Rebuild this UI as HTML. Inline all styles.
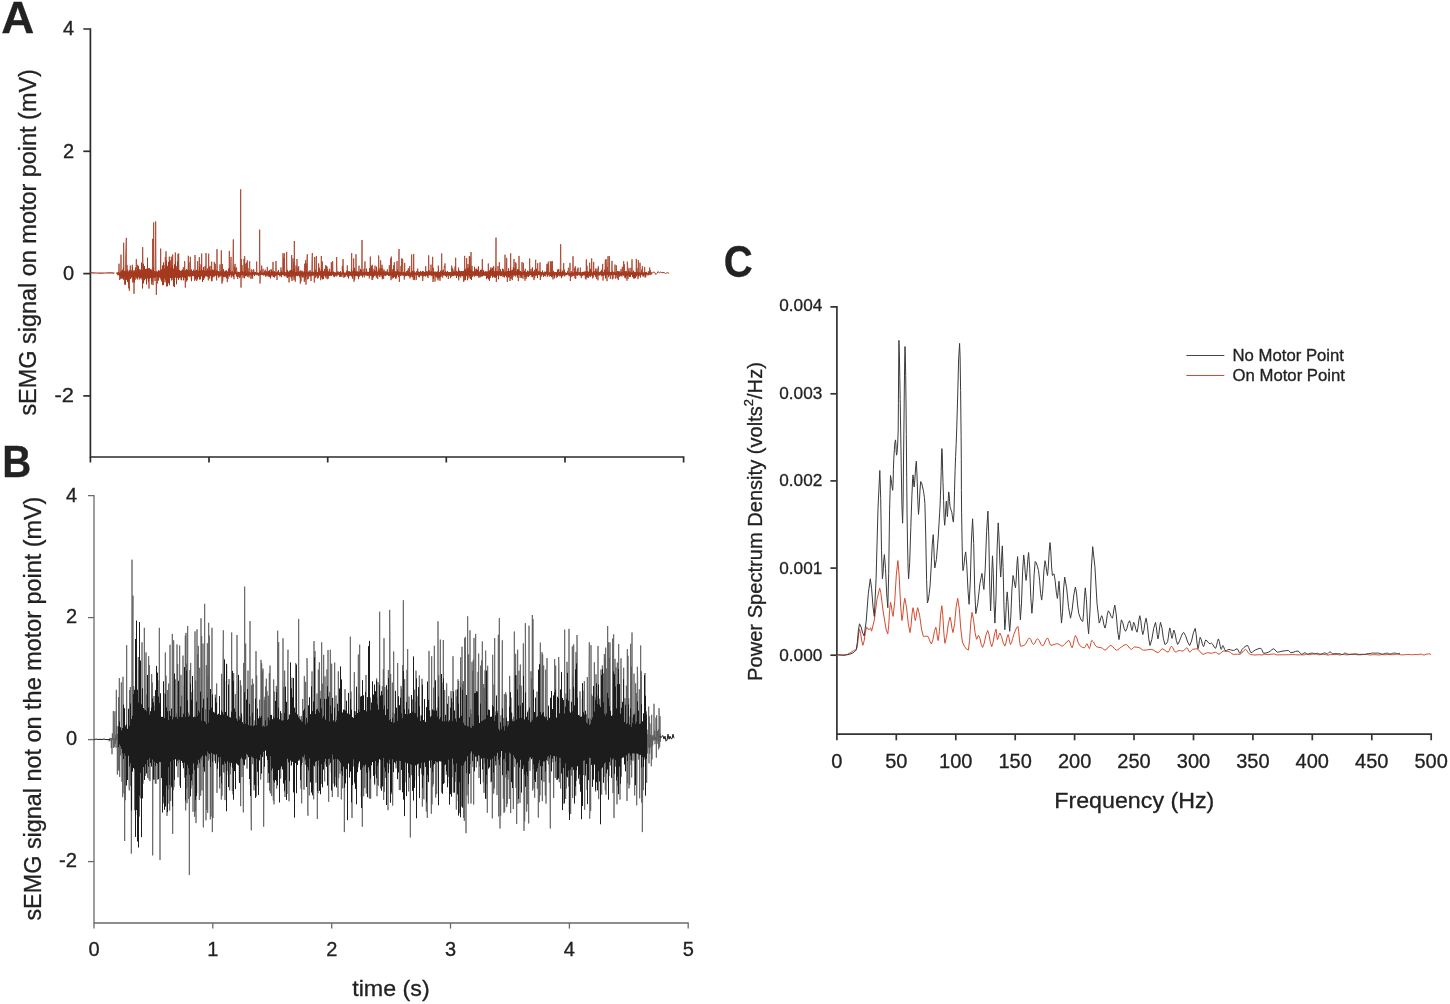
<!DOCTYPE html><html><head><meta charset="utf-8"><style>html,body{margin:0;padding:0;background:#fff;width:1450px;height:1004px;overflow:hidden}svg{display:block;will-change:transform}text{font-family:"Liberation Sans",sans-serif;stroke:#222;stroke-width:0.3px}</style></head><body><svg width="1450" height="1004" viewBox="0 0 1450 1004"><rect width="1450" height="1004" fill="#fff"/><text x="1.3" y="33" font-size="44.5" font-weight="bold" fill="#222" textLength="33" lengthAdjust="spacingAndGlyphs">A</text><text x="2.2" y="476.9" font-size="44.5" font-weight="bold" fill="#222" textLength="29" lengthAdjust="spacingAndGlyphs">B</text><text x="723.8" y="276.6" font-size="44.5" font-weight="bold" fill="#222" textLength="29" lengthAdjust="spacingAndGlyphs">C</text><g stroke="#2b2b2b" stroke-width="1.7" fill="none"><path d="M83.3,29 H90.4 V457 H683.6 V462.5"/><path d="M83.3,151.3 H90.4"/><path d="M83.3,273.6 H90.4"/><path d="M83.3,395.9 H90.4"/><path d="M90.4,457 V462.5"/><path d="M209.0,457 V462.5"/><path d="M327.7,457 V462.5"/><path d="M446.3,457 V462.5"/><path d="M565.0,457 V462.5"/></g><g font-size="20" fill="#222" text-anchor="end"><text x="74" y="35.3">4</text><text x="74" y="157.6">2</text><text x="74" y="279.9">0</text><text x="74" y="402.2" textLength="19.5" lengthAdjust="spacingAndGlyphs">-2</text></g><text transform="translate(36.3,415.6) rotate(-90)" font-size="23.5" fill="#222" textLength="346.5" lengthAdjust="spacingAndGlyphs">sEMG signal on motor point (mV)</text><polyline points="116.00,273.6 116.33,273.6 116.67,273.6 117.00,272.4 117.33,273.6 117.67,272.7 118.00,275.3 118.33,272.1 118.67,273.6 119.00,263.7 119.33,275.0 119.67,280.0 120.00,277.8 120.33,271.3 120.67,277.0 121.00,254.7 121.33,278.8 121.67,270.7 122.00,277.1 122.33,273.3 122.67,274.5 123.00,270.4 123.33,276.1 123.67,242.8 124.00,274.7 124.33,271.3 124.67,284.5 125.00,271.8 125.33,278.1 125.67,254.5 126.00,246.8 126.33,237.9 126.67,278.6 127.00,264.9 127.33,278.2 127.67,269.7 128.00,274.2 128.33,271.7 128.67,288.2 129.00,272.5 129.33,290.7 129.67,270.0 130.00,278.8 130.33,265.6 130.67,278.8 131.00,272.5 131.33,274.7 131.67,272.3 132.00,273.6 132.33,264.8 132.67,282.5 133.00,270.2 133.33,278.4 133.67,272.9 134.00,293.8 134.33,270.4 134.67,275.4 135.00,278.3 135.33,279.7 135.67,272.8 136.00,273.6 136.33,259.2 136.67,278.4 137.00,271.5 137.33,274.4 137.67,264.8 138.00,276.3 138.33,271.5 138.67,274.8 139.00,271.6 139.33,279.5 139.67,269.0 140.00,273.8 140.33,272.8 140.67,275.6 141.00,272.5 141.33,275.3 141.67,264.7 142.00,279.5 142.33,273.2 142.67,247.2 143.00,266.0 143.33,278.4 143.67,275.6 144.00,270.8 144.33,274.5 144.67,273.2 145.00,277.1 145.33,274.4 145.67,270.7 146.00,274.6 146.33,270.1 146.67,281.2 147.00,275.7 147.33,271.5 147.67,277.5 148.00,273.0 148.33,277.8 148.67,273.5 149.00,288.6 149.33,272.4 149.67,275.2 150.00,270.9 150.33,277.3 150.67,271.3 151.00,276.6 151.33,273.0 151.67,284.4 152.00,273.0 152.33,282.2 152.67,238.8 153.00,285.1 153.33,273.6 153.67,222.4 154.00,271.5 154.33,275.3 154.67,271.3 155.00,281.0 155.33,273.0 155.67,221.4 156.00,269.0 156.33,294.8 156.67,281.5 157.00,272.4 157.33,283.5 157.67,274.9 158.00,273.5 158.33,278.5 158.67,272.5 159.00,277.7 159.33,275.9 159.67,271.1 160.00,271.4 160.33,278.2 160.67,248.6 161.00,279.7 161.33,269.7 161.67,281.5 162.00,273.2 162.33,274.8 162.67,270.4 163.00,274.8 163.33,270.8 163.67,274.0 164.00,265.1 164.33,276.2 164.67,270.6 165.00,282.4 165.33,256.9 165.67,280.3 166.00,251.3 166.33,275.0 166.67,271.5 167.00,277.5 167.33,265.8 167.67,283.2 168.00,272.9 168.33,280.4 168.67,271.3 169.00,274.9 169.33,256.6 169.67,274.7 170.00,272.8 170.33,276.0 170.67,260.5 171.00,274.0 171.33,256.7 171.67,275.3 172.00,270.9 172.33,274.6 172.67,254.5 173.00,280.0 173.33,272.3 173.67,273.0 174.00,274.5 174.33,273.3 174.67,273.8 175.00,273.2 175.33,252.5 175.67,275.5 176.00,276.2 176.33,266.2 176.67,278.9 177.00,272.7 177.33,272.2 177.67,275.9 178.00,254.0 178.33,277.2 178.67,253.5 179.00,275.7 179.33,271.4 179.67,273.7 180.00,271.2 180.33,276.6 180.67,271.0 181.00,279.5 181.33,273.4 181.67,276.5 182.00,272.5 182.33,274.7 182.67,271.2 183.00,275.7 183.33,267.3 183.67,279.7 184.00,271.9 184.33,277.2 184.67,261.2 185.00,275.0 185.33,287.6 185.67,272.8 186.00,274.9 186.33,270.9 186.67,281.6 187.00,270.9 187.33,280.1 187.67,271.4 188.00,273.8 188.33,255.8 188.67,274.2 189.00,262.2 189.33,276.7 189.67,272.8 190.00,275.7 190.33,256.8 190.67,274.0 191.00,272.7 191.33,279.6 191.67,271.8 192.00,273.7 192.33,271.3 192.67,275.1 193.00,273.3 193.33,275.2 193.67,272.0 194.00,275.3 194.33,273.2 194.67,280.8 195.00,255.0 195.33,274.4 195.67,272.4 196.00,274.9 196.33,271.9 196.67,281.0 197.00,273.4 197.33,279.4 197.67,261.1 198.00,276.7 198.33,271.6 198.67,276.8 199.00,272.1 199.33,257.1 199.67,271.4 200.00,276.5 200.33,272.8 200.67,275.5 201.00,264.2 201.33,275.7 201.67,253.5 202.00,276.4 202.33,272.6 202.67,276.8 203.00,272.0 203.33,274.5 203.67,267.6 204.00,275.2 204.33,273.5 204.67,276.7 205.00,266.1 205.33,266.2 205.67,274.1 206.00,253.1 206.33,273.7 206.67,271.2 207.00,274.2 207.33,273.5 207.67,276.7 208.00,270.7 208.33,280.4 208.67,253.7 209.00,276.2 209.33,271.6 209.67,278.6 210.00,270.5 210.33,273.8 210.67,274.4 211.00,265.8 211.33,276.0 211.67,261.6 212.00,281.2 212.33,273.0 212.67,276.5 213.00,273.5 213.33,276.3 213.67,270.4 214.00,277.2 214.33,261.9 214.67,274.2 215.00,272.6 215.33,263.8 215.67,274.3 216.00,270.3 216.33,270.6 216.67,280.4 217.00,249.2 217.33,274.0 217.67,272.1 218.00,274.6 218.33,271.0 218.67,277.9 219.00,276.8 219.33,273.0 219.67,276.4 220.00,264.4 220.33,275.7 220.67,271.6 221.00,274.2 221.33,250.3 221.67,273.8 222.00,283.7 222.33,264.0 222.67,281.4 223.00,276.7 223.33,273.2 223.67,276.0 224.00,272.2 224.33,276.8 224.67,272.9 225.00,277.2 225.33,270.7 225.67,276.9 226.00,274.4 226.33,270.6 226.67,277.0 227.00,272.2 227.33,282.1 227.67,272.3 228.00,279.0 228.33,273.4 228.67,273.8 229.00,275.9 229.33,250.9 229.67,276.6 230.00,271.9 230.33,273.8 230.67,268.0 231.00,256.9 231.33,277.5 231.67,273.2 232.00,276.6 232.33,271.0 232.67,275.8 233.00,258.1 233.33,239.4 233.67,271.5 234.00,279.2 234.33,266.5 234.67,274.7 235.00,263.9 235.33,273.7 235.67,268.2 236.00,273.6 236.33,267.4 236.67,268.3 237.00,276.9 237.33,271.7 237.67,278.9 238.00,273.0 238.33,276.9 238.67,272.8 239.00,275.4 239.33,272.6 239.67,278.1 240.00,273.2 240.33,276.8 240.67,189.3 241.00,287.6 241.33,259.0 241.67,275.1 242.00,265.0 242.33,275.1 242.67,271.5 243.00,278.1 243.33,272.1 243.67,275.4 244.00,258.9 244.33,277.2 244.67,256.2 245.00,273.8 245.33,263.7 245.67,275.4 246.00,271.4 246.33,275.6 246.67,262.6 247.00,276.2 247.33,260.3 247.67,276.9 248.00,268.2 248.33,274.9 248.67,271.4 249.00,277.4 249.33,267.9 249.67,261.2 250.00,274.4 250.33,272.6 250.67,276.4 251.00,279.0 251.33,269.4 251.67,274.0 252.00,277.5 252.33,272.0 252.67,278.6 253.00,269.9 253.33,274.5 253.67,269.1 254.00,274.1 254.33,272.2 254.67,275.3 255.00,272.2 255.33,274.1 255.67,272.0 256.00,274.9 256.33,274.5 256.67,261.6 257.00,275.3 257.33,272.7 257.67,273.9 258.00,273.1 258.33,274.2 258.67,272.9 259.00,274.4 259.33,274.3 259.67,229.7 260.00,283.5 260.33,273.6 260.67,275.1 261.00,273.3 261.33,274.9 261.67,265.6 262.00,273.3 262.33,274.4 262.67,274.1 263.00,268.8 263.33,275.3 263.67,273.4 264.00,275.5 264.33,274.5 264.67,272.2 265.00,274.2 265.33,269.6 265.67,276.6 266.00,272.5 266.33,273.8 266.67,273.5 267.00,276.3 267.33,266.9 267.67,275.8 268.00,272.2 268.33,274.6 268.67,270.9 269.00,274.8 269.33,274.4 269.67,272.5 270.00,276.5 270.33,272.7 270.67,274.0 271.00,269.2 271.33,275.2 271.67,272.8 272.00,276.6 272.33,271.9 272.67,275.4 273.00,261.9 273.33,273.8 273.67,272.5 274.00,273.6 274.33,272.2 274.67,275.7 275.00,273.4 275.33,276.2 275.67,272.6 276.00,261.0 276.33,271.8 276.67,272.3 277.00,280.0 277.33,272.2 277.67,274.0 278.00,271.9 278.33,274.3 278.67,273.0 279.00,275.1 279.33,273.3 279.67,276.3 280.00,272.3 280.33,276.0 280.67,271.7 281.00,267.5 281.33,276.9 281.67,275.5 282.00,273.0 282.33,274.8 282.67,273.0 283.00,253.2 283.33,275.0 283.67,257.8 284.00,275.6 284.33,253.4 284.67,274.7 285.00,276.4 285.33,273.4 285.67,274.3 286.00,272.3 286.33,276.2 286.67,251.9 287.00,277.6 287.33,273.5 287.67,276.3 288.00,273.1 288.33,276.5 288.67,271.6 289.00,282.4 289.33,277.4 289.67,273.3 290.00,271.4 290.33,273.7 290.67,270.6 291.00,274.8 291.33,278.4 291.67,255.0 292.00,281.0 292.33,271.1 292.67,276.7 293.00,258.4 293.33,276.4 293.67,262.0 294.00,280.2 294.33,241.0 294.67,278.1 295.00,272.8 295.33,281.7 295.67,274.7 296.00,265.5 296.33,272.4 296.67,275.6 297.00,259.0 297.33,272.3 297.67,274.9 298.00,267.6 298.33,274.5 298.67,266.3 299.00,276.1 299.33,271.3 299.67,277.3 300.00,272.7 300.33,283.7 300.67,270.4 301.00,281.4 301.33,271.4 301.67,276.1 302.00,270.8 302.33,274.7 302.67,271.6 303.00,277.5 303.33,273.3 303.67,276.6 304.00,271.4 304.33,282.0 304.67,263.7 305.00,280.1 305.33,274.8 305.67,260.1 306.00,284.6 306.33,263.4 306.67,276.3 307.00,257.2 307.33,254.2 307.67,279.4 308.00,271.3 308.33,278.9 308.67,273.4 309.00,276.4 309.33,273.1 309.67,275.2 310.00,270.1 310.33,276.9 310.67,271.5 311.00,281.0 311.33,272.5 311.67,275.8 312.00,259.4 312.33,253.0 312.67,275.2 313.00,271.7 313.33,273.0 313.67,275.3 314.00,271.9 314.33,282.5 314.67,257.0 315.00,274.3 315.33,272.9 315.67,277.7 316.00,270.6 316.33,256.0 316.67,276.4 317.00,274.8 317.33,272.1 317.67,278.5 318.00,272.7 318.33,274.3 318.67,263.5 319.00,275.6 319.33,267.7 319.67,275.2 320.00,275.5 320.33,270.7 320.67,280.2 321.00,275.9 321.33,256.0 321.67,277.9 322.00,268.0 322.33,261.5 322.67,271.0 323.00,277.5 323.33,271.9 323.67,274.2 324.00,272.4 324.33,274.0 324.67,273.6 325.00,274.5 325.33,277.0 325.67,265.3 326.00,278.3 326.33,265.9 326.67,275.1 327.00,266.6 327.33,279.2 327.67,269.0 328.00,274.6 328.33,278.5 328.67,272.1 329.00,275.9 329.33,273.2 329.67,268.8 330.00,275.4 330.33,272.7 330.67,272.0 331.00,275.7 331.33,262.2 331.67,274.7 332.00,272.2 332.33,273.7 332.67,261.2 333.00,274.4 333.33,271.6 333.67,274.5 334.00,272.7 334.33,276.7 334.67,272.2 335.00,273.1 335.33,275.7 335.67,273.1 336.00,274.7 336.33,276.5 336.67,257.0 337.00,273.4 337.33,275.6 337.67,273.3 338.00,274.1 338.33,271.6 338.67,274.7 339.00,273.5 339.33,275.5 339.67,276.9 340.00,271.9 340.33,276.9 340.67,272.7 341.00,276.6 341.33,275.1 341.67,272.8 342.00,276.9 342.33,265.9 342.67,274.4 343.00,259.1 343.33,267.8 343.67,277.7 344.00,276.7 344.33,273.3 344.67,276.7 345.00,276.4 345.33,273.3 345.67,276.5 346.00,274.4 346.33,274.2 346.67,270.8 347.00,273.9 347.33,265.4 347.67,276.5 348.00,272.8 348.33,274.8 348.67,277.1 349.00,271.6 349.33,275.6 349.67,271.2 350.00,275.3 350.33,272.0 350.67,275.2 351.00,273.4 351.33,276.0 351.67,253.1 352.00,276.9 352.33,271.8 352.67,278.7 353.00,271.0 353.33,274.8 353.67,258.4 354.00,281.7 354.33,271.0 354.67,279.8 355.00,276.5 355.33,271.5 355.67,275.8 356.00,254.2 356.33,275.8 356.67,272.4 357.00,275.9 357.33,274.6 357.67,272.5 358.00,275.1 358.33,273.3 358.67,274.9 359.00,265.7 359.33,276.8 359.67,272.1 360.00,271.2 360.33,274.7 360.67,275.7 361.00,271.4 361.33,275.1 361.67,271.8 362.00,240.0 362.33,273.2 362.67,274.3 363.00,271.7 363.33,274.2 363.67,274.9 364.00,268.7 364.33,277.3 364.67,267.3 365.00,261.4 365.33,275.4 365.67,272.6 366.00,274.4 366.33,272.5 366.67,275.8 367.00,273.1 367.33,275.3 367.67,271.7 368.00,272.4 368.33,274.2 368.67,275.6 369.00,272.0 369.33,278.4 369.67,272.8 370.00,275.3 370.33,256.6 370.67,274.3 371.00,265.7 371.33,275.3 371.67,272.7 372.00,279.8 372.33,264.8 372.67,279.6 373.00,268.9 373.33,275.8 373.67,273.5 374.00,275.3 374.33,273.0 374.67,276.0 375.00,265.6 375.33,273.3 375.67,274.1 376.00,271.6 376.33,277.7 376.67,269.0 377.00,276.9 377.33,272.1 377.67,279.1 378.00,274.1 378.33,271.7 378.67,255.5 379.00,270.1 379.33,269.9 379.67,273.7 380.00,268.3 380.33,274.5 380.67,260.3 381.00,276.8 381.33,268.2 381.67,274.2 382.00,264.8 382.33,279.3 382.67,268.3 383.00,276.4 383.33,273.2 383.67,278.9 384.00,269.6 384.33,274.1 384.67,271.5 385.00,275.4 385.33,271.4 385.67,275.1 386.00,271.8 386.33,275.4 386.67,271.5 387.00,274.8 387.33,269.4 387.67,275.1 388.00,273.6 388.33,274.5 388.67,272.1 389.00,274.1 389.33,265.2 389.67,276.1 390.00,271.3 390.33,274.7 390.67,258.5 391.00,280.2 391.33,256.6 391.67,274.4 392.00,278.7 392.33,269.3 392.67,275.4 393.00,272.7 393.33,278.1 393.67,265.3 394.00,275.7 394.33,262.3 394.67,276.8 395.00,271.6 395.33,273.8 395.67,272.0 396.00,276.2 396.33,278.4 396.67,275.6 397.00,261.1 397.33,274.9 397.67,272.4 398.00,273.8 398.33,271.4 398.67,274.0 399.00,249.0 399.33,282.0 399.67,272.9 400.00,275.4 400.33,272.1 400.67,276.0 401.00,266.0 401.33,275.2 401.67,258.5 402.00,275.1 402.33,260.5 402.67,258.9 403.00,275.4 403.33,272.9 403.67,275.8 404.00,271.9 404.33,279.6 404.67,262.9 405.00,276.3 405.33,273.1 405.67,274.5 406.00,273.3 406.33,276.0 406.67,271.0 407.00,272.6 407.33,275.6 407.67,273.1 408.00,275.4 408.33,268.2 408.67,274.8 409.00,270.9 409.33,274.0 409.67,266.0 410.00,278.4 410.33,273.6 410.67,276.9 411.00,273.1 411.33,273.9 411.67,254.6 412.00,277.0 412.33,270.9 412.67,274.8 413.00,271.7 413.33,280.0 413.67,254.0 414.00,276.3 414.33,271.3 414.67,280.2 415.00,273.3 415.33,275.1 415.67,273.4 416.00,275.0 416.33,279.8 416.67,271.0 417.00,271.3 417.33,275.5 417.67,268.6 418.00,275.0 418.33,271.5 418.67,276.9 419.00,272.4 419.33,274.3 419.67,272.4 420.00,276.1 420.33,271.5 420.67,274.7 421.00,273.1 421.33,275.4 421.67,271.8 422.00,275.8 422.33,272.4 422.67,281.0 423.00,277.5 423.33,271.7 423.67,275.8 424.00,273.5 424.33,275.0 424.67,275.9 425.00,273.6 425.33,275.3 425.67,266.2 426.00,274.1 426.33,272.1 426.67,275.7 427.00,271.8 427.33,274.5 427.67,272.1 428.00,278.0 428.33,272.1 428.67,255.3 429.00,271.1 429.33,275.0 429.67,272.7 430.00,274.2 430.33,271.8 430.67,275.1 431.00,264.6 431.33,275.4 431.67,270.7 432.00,276.1 432.33,273.0 432.67,256.8 433.00,282.0 433.33,267.9 433.67,275.1 434.00,272.1 434.33,274.8 434.67,271.7 435.00,281.5 435.33,274.4 435.67,273.5 436.00,276.2 436.33,273.3 436.67,277.3 437.00,271.8 437.33,278.4 437.67,271.4 438.00,280.3 438.33,265.6 438.67,275.3 439.00,277.3 439.33,278.5 439.67,273.1 440.00,280.8 440.33,273.5 440.67,273.2 441.00,274.2 441.33,276.5 441.67,253.4 442.00,274.1 442.33,272.5 442.67,277.7 443.00,270.9 443.33,274.0 443.67,272.7 444.00,273.8 444.33,266.1 444.67,268.1 445.00,263.4 445.33,273.9 445.67,272.9 446.00,273.9 446.33,273.0 446.67,275.4 447.00,272.6 447.33,275.7 447.67,275.7 448.00,272.9 448.33,279.0 448.67,272.2 449.00,275.6 449.33,272.0 449.67,275.3 450.00,275.8 450.33,273.3 450.67,275.7 451.00,272.6 451.33,276.7 451.67,265.6 452.00,274.6 452.33,267.9 452.67,275.7 453.00,269.4 453.33,274.9 453.67,273.5 454.00,275.7 454.33,271.7 454.67,274.5 455.00,266.5 455.33,275.2 455.67,257.8 456.00,275.3 456.33,272.1 456.67,274.9 457.00,271.6 457.33,273.7 457.67,272.5 458.00,274.1 458.33,272.5 458.67,280.3 459.00,273.0 459.33,275.2 459.67,272.1 460.00,274.7 460.33,273.4 460.67,277.5 461.00,275.8 461.33,272.4 461.67,275.0 462.00,275.2 462.33,272.7 462.67,275.6 463.00,272.0 463.33,273.9 463.67,282.0 464.00,271.5 464.33,280.3 464.67,255.9 465.00,278.6 465.33,271.5 465.67,275.8 466.00,273.2 466.33,274.4 466.67,258.1 467.00,276.3 467.33,267.9 467.67,275.1 468.00,264.0 468.33,273.8 468.67,273.2 469.00,278.3 469.33,256.0 469.67,275.3 470.00,256.8 470.33,271.1 470.67,275.0 471.00,252.0 471.33,276.8 471.67,273.7 472.00,265.9 472.33,275.8 472.67,271.7 473.00,273.8 473.33,273.6 473.67,273.2 474.00,272.9 474.33,276.7 474.67,271.7 475.00,273.7 475.33,272.5 475.67,275.7 476.00,268.7 476.33,274.2 476.67,271.4 477.00,276.1 477.33,272.2 477.67,274.6 478.00,271.7 478.33,267.6 478.67,277.6 479.00,273.6 479.33,276.3 479.67,272.3 480.00,277.5 480.33,271.6 480.67,276.5 481.00,275.2 481.33,272.5 481.67,274.8 482.00,274.4 482.33,259.1 482.67,274.6 483.00,273.1 483.33,275.1 483.67,273.3 484.00,275.8 484.33,272.5 484.67,274.3 485.00,272.9 485.33,275.6 485.67,272.7 486.00,275.8 486.33,273.1 486.67,276.9 487.00,272.0 487.33,274.3 487.67,272.0 488.00,275.3 488.33,263.5 488.67,275.2 489.00,276.6 489.33,273.3 489.67,275.5 490.00,270.3 490.33,277.8 490.67,273.1 491.00,267.4 491.33,275.2 491.67,269.3 492.00,273.8 492.33,272.3 492.67,274.1 493.00,268.6 493.33,275.0 493.67,266.0 494.00,274.0 494.33,272.1 494.67,276.2 495.00,272.1 495.33,275.2 495.67,270.5 496.00,237.6 496.33,282.0 496.67,275.0 497.00,273.0 497.33,275.2 497.67,273.9 498.00,266.1 498.33,275.0 498.67,273.4 499.00,274.3 499.33,262.2 499.67,275.1 500.00,272.2 500.33,273.8 500.67,272.3 501.00,275.2 501.33,272.1 501.67,274.2 502.00,271.5 502.33,274.7 502.67,272.7 503.00,277.1 503.33,269.3 503.67,276.4 504.00,272.8 504.33,272.7 504.67,275.9 505.00,254.7 505.33,274.7 505.67,275.9 506.00,272.4 506.33,274.9 506.67,257.9 507.00,271.2 507.33,282.0 507.67,272.9 508.00,274.5 508.33,271.8 508.67,274.8 509.00,272.2 509.33,276.7 509.67,273.6 510.00,281.0 510.33,276.2 510.67,253.3 511.00,278.7 511.33,271.3 511.67,278.6 512.00,273.1 512.33,280.1 512.67,272.6 513.00,277.0 513.33,267.3 513.67,274.9 514.00,259.0 514.33,275.5 514.67,268.2 515.00,274.5 515.33,262.3 515.67,276.5 516.00,263.4 516.33,273.9 516.67,271.0 517.00,275.4 517.33,272.5 517.67,272.8 518.00,273.7 518.33,281.1 518.67,276.6 519.00,255.9 519.33,274.8 519.67,272.4 520.00,277.9 520.33,277.5 520.67,272.1 521.00,273.9 521.33,272.4 521.67,278.0 522.00,262.1 522.33,274.5 522.67,273.5 523.00,278.7 523.33,262.9 523.67,274.0 524.00,272.3 524.33,277.1 524.67,271.7 525.00,280.7 525.33,268.8 525.67,272.6 526.00,278.9 526.33,273.3 526.67,277.3 527.00,275.2 527.33,276.3 527.67,271.8 528.00,276.1 528.33,273.5 528.67,274.7 529.00,272.4 529.33,275.8 529.67,258.5 530.00,274.5 530.33,271.4 530.67,273.9 531.00,269.0 531.33,276.7 531.67,272.3 532.00,274.1 532.33,267.8 532.67,274.9 533.00,273.0 533.33,276.1 533.67,273.3 534.00,280.1 534.33,271.7 534.67,278.1 535.00,271.7 535.33,275.5 535.67,259.8 536.00,276.1 536.33,271.8 536.67,269.1 537.00,274.6 537.33,274.9 537.67,263.2 538.00,274.0 538.33,271.4 538.67,271.5 539.00,274.8 539.33,271.1 539.67,274.3 540.00,262.4 540.33,280.0 540.67,271.7 541.00,276.4 541.33,273.6 541.67,276.5 542.00,272.1 542.33,273.8 542.67,272.4 543.00,275.1 543.33,273.3 543.67,276.4 544.00,272.3 544.33,274.8 544.67,271.6 545.00,274.6 545.33,272.3 545.67,276.3 546.00,272.3 546.33,273.6 546.67,269.0 547.00,263.8 547.33,276.8 547.67,264.5 548.00,275.5 548.33,261.7 548.67,274.0 549.00,272.7 549.33,276.5 549.67,274.4 550.00,273.0 550.33,261.1 550.67,273.9 551.00,269.2 551.33,274.9 551.67,261.6 552.00,274.4 552.33,261.1 552.67,276.9 553.00,279.4 553.33,272.8 553.67,274.2 554.00,273.3 554.33,278.4 554.67,273.6 555.00,273.0 555.33,275.1 555.67,273.2 556.00,274.9 556.33,277.8 556.67,272.7 557.00,274.8 557.33,275.0 557.67,272.7 558.00,276.0 558.33,275.7 558.67,269.2 559.00,274.9 559.33,272.2 559.67,273.1 560.00,276.4 560.33,266.1 560.67,244.2 561.00,272.4 561.33,274.3 561.67,272.2 562.00,273.7 562.33,271.5 562.67,276.3 563.00,272.8 563.33,273.9 563.67,263.2 564.00,275.1 564.33,272.1 564.67,276.4 565.00,272.5 565.33,274.5 565.67,273.2 566.00,275.5 566.33,273.4 566.67,274.0 567.00,273.3 567.33,273.7 567.67,271.1 568.00,274.3 568.33,268.1 568.67,267.8 569.00,276.2 569.33,272.7 569.67,275.9 570.00,262.9 570.33,281.0 570.67,272.8 571.00,276.7 571.33,271.2 571.67,276.8 572.00,271.8 572.33,276.1 572.67,273.4 573.00,256.2 573.33,271.6 573.67,276.0 574.00,273.0 574.33,275.6 574.67,267.9 575.00,278.2 575.33,266.3 575.67,279.0 576.00,273.5 576.33,275.2 576.67,272.1 577.00,275.7 577.33,269.0 577.67,273.7 578.00,267.6 578.33,273.8 578.67,272.0 579.00,275.4 579.33,275.2 579.67,272.1 580.00,275.4 580.33,267.6 580.67,275.7 581.00,273.0 581.33,278.0 581.67,273.6 582.00,275.7 582.33,273.4 582.67,274.2 583.00,272.7 583.33,274.7 583.67,272.3 584.00,275.1 584.33,271.7 584.67,274.4 585.00,273.4 585.33,278.6 585.67,271.8 586.00,279.5 586.33,259.4 586.67,275.4 587.00,265.7 587.33,277.2 587.67,272.7 588.00,278.0 588.33,271.9 588.67,277.6 589.00,271.9 589.33,273.7 589.67,262.7 590.00,273.9 590.33,268.9 590.67,273.6 591.00,272.9 591.33,275.6 591.67,258.4 592.00,274.2 592.33,273.5 592.67,278.4 593.00,272.9 593.33,277.2 593.67,261.9 594.00,274.9 594.33,271.1 594.67,274.3 595.00,272.3 595.33,275.8 595.67,268.6 596.00,277.3 596.33,272.8 596.67,279.1 597.00,268.6 597.33,275.6 597.67,273.9 598.00,280.3 598.33,266.3 598.67,274.3 599.00,272.6 599.33,275.5 599.67,273.4 600.00,274.8 600.33,273.1 600.67,273.1 601.00,271.5 601.33,276.3 601.67,271.7 602.00,272.4 602.33,275.4 602.67,263.9 603.00,280.5 603.33,277.3 603.67,272.2 604.00,274.2 604.33,273.1 604.67,271.4 605.00,275.8 605.33,259.9 605.67,278.5 606.00,259.0 606.33,262.5 606.67,276.1 607.00,281.2 607.33,267.1 607.67,274.6 608.00,256.2 608.33,275.0 608.67,271.1 609.00,276.1 609.33,256.1 609.67,273.8 610.00,273.2 610.33,278.9 610.67,273.5 611.00,275.6 611.33,272.6 611.67,272.0 612.00,260.9 612.33,279.3 612.67,271.2 613.00,278.7 613.33,273.3 613.67,275.1 614.00,272.4 614.33,271.9 614.67,274.7 615.00,264.6 615.33,278.6 615.67,272.6 616.00,275.6 616.33,265.4 616.67,272.5 617.00,278.2 617.33,271.9 617.67,278.3 618.00,272.9 618.33,280.1 618.67,272.4 619.00,273.9 619.33,271.2 619.67,276.8 620.00,273.6 620.33,275.9 620.67,273.5 621.00,269.1 621.33,275.1 621.67,271.9 622.00,276.5 622.33,266.8 622.67,274.6 623.00,271.3 623.33,273.9 623.67,261.2 624.00,275.3 624.33,264.4 624.67,277.4 625.00,273.4 625.33,278.3 625.67,271.0 626.00,275.4 626.33,271.2 626.67,276.2 627.00,280.7 627.33,261.7 627.67,266.2 628.00,279.0 628.33,271.3 628.67,275.2 629.00,268.1 629.33,275.3 629.67,271.4 630.00,273.0 630.33,276.9 630.67,272.7 631.00,267.8 631.33,274.8 631.67,273.3 632.00,259.3 632.33,272.0 632.67,276.1 633.00,272.2 633.33,273.9 633.67,271.5 634.00,277.0 634.33,272.8 634.67,278.6 635.00,272.8 635.33,275.0 635.67,272.2 636.00,275.3 636.33,258.9 636.67,275.2 637.00,268.1 637.33,274.9 637.67,271.7 638.00,279.1 638.33,260.1 638.67,276.5 639.00,272.7 639.33,275.7 639.67,275.5 640.00,262.7 640.33,275.2 640.67,275.2 641.00,273.4 641.33,274.7 641.67,269.6 642.00,275.0 642.33,266.1 642.67,276.1 643.00,276.6 643.33,272.6 643.67,272.6 644.00,275.2 644.33,273.3 644.67,266.9 645.00,277.4 645.33,272.7 645.67,277.3 646.00,272.6 646.33,273.0 646.67,274.3 647.00,275.5 647.33,273.5 647.67,273.1 648.00,274.3 648.33,271.3 648.67,273.3 649.00,272.6 649.33,273.8 649.67,267.5 650.00,275.2 650.33,270.1 650.67,274.7 651.00,272.8 651.33,273.8 651.67,271.9" stroke="#a8432c" stroke-width="0.85" fill="none"/><path d="M116.5 273.6V273.6M117.5 273.4V274.6M118.5 272.4V274.9M119.5 272.8V275.9M120.5 272.5V278.6M121.5 272.3V276.1M122.5 269.6V278.6M123.5 267.1V279.8M124.5 271.4V277.2M125.5 270.1V284.8M126.5 271.5V279.9M127.5 271.2V282.1M128.5 271.5V284.1M129.5 270.2V276.7M130.5 271.5V278.3M131.5 270.4V277.6M132.5 267.0V276.5M133.5 271.4V281.6M134.5 271.4V282.5M135.5 267.5V276.9M136.5 271.2V277.5M137.5 268.4V279.5M138.5 266.1V277.3M139.5 270.8V277.9M140.5 269.7V278.5M141.5 262.5V277.8M142.5 270.0V288.6M143.5 263.8V283.5M144.5 266.0V280.4M145.5 269.0V278.8M146.5 268.6V284.5M147.5 257.6V278.6M148.5 268.2V281.9M149.5 268.1V279.0M150.5 269.2V278.1M151.5 269.5V281.0M152.5 270.1V277.6M153.5 266.8V277.9M154.5 271.1V277.6M155.5 271.6V277.5M156.5 271.2V276.9M157.5 271.4V276.8M158.5 270.2V280.7M159.5 270.7V277.2M160.5 270.2V278.0M161.5 269.5V280.0M162.5 265.4V285.3M163.5 262.3V285.1M164.5 268.6V278.5M165.5 267.0V278.2M166.5 260.5V286.5M167.5 266.6V286.4M168.5 262.0V283.3M169.5 260.2V285.3M170.5 267.9V278.1M171.5 265.2V280.6M172.5 266.3V278.0M173.5 268.6V286.3M174.5 264.3V287.1M175.5 261.6V277.7M176.5 269.5V284.4M177.5 261.3V277.9M178.5 270.1V280.0M179.5 269.9V278.0M180.5 270.7V277.3M181.5 270.4V280.4M182.5 269.5V277.4M183.5 270.1V280.4M184.5 270.8V277.7M185.5 270.2V277.8M186.5 269.1V279.4M187.5 269.7V276.5M188.5 271.3V276.3M189.5 270.2V276.6M190.5 271.1V276.5M191.5 269.3V281.3M192.5 270.9V276.2M193.5 269.6V276.1M194.5 270.7V277.0M195.5 270.7V279.5M196.5 269.8V277.7M197.5 270.4V278.9M198.5 270.7V277.4M199.5 267.0V279.6M200.5 270.6V279.4M201.5 268.4V276.3M202.5 270.1V282.0M203.5 266.9V280.1M204.5 270.5V278.3M205.5 270.7V276.4M206.5 270.4V276.4M207.5 268.4V276.4M208.5 270.5V277.4M209.5 266.5V276.2M210.5 270.4V276.1M211.5 270.7V281.1M212.5 269.5V277.6M213.5 269.8V275.9M214.5 270.0V275.9M215.5 271.4V275.8M216.5 270.7V277.7M217.5 270.5V275.6M218.5 271.6V276.4M219.5 271.7V276.3M220.5 271.2V276.3M221.5 270.4V275.8M222.5 271.6V276.0M223.5 269.0V277.2M224.5 271.4V275.5M225.5 271.4V275.7M226.5 270.4V278.3M227.5 271.4V276.8M228.5 268.6V275.3M229.5 267.8V275.4M230.5 271.7V275.1M231.5 271.7V274.9M232.5 272.0V274.8M233.5 272.1V276.8M234.5 270.5V274.5M235.5 271.3V274.4M236.5 272.4V276.2M237.5 272.5V275.7M238.5 271.8V274.6M239.5 272.2V275.7M240.5 271.5V276.4M241.5 271.3V274.9M242.5 271.1V274.9M243.5 272.4V275.0M244.5 272.1V278.3M245.5 270.9V276.3M246.5 272.6V274.9M247.5 272.6V274.8M248.5 272.8V275.5M249.5 272.4V275.3M250.5 272.6V274.9M251.5 272.3V274.5M252.5 272.2V276.3M253.5 273.0V274.6M254.5 271.8V276.0M255.5 272.1V274.4M256.5 272.9V274.7M257.5 272.7V274.6M258.5 272.8V275.9M259.5 272.0V275.5M260.5 270.5V274.9M261.5 272.5V274.7M262.5 272.5V274.9M263.5 272.3V274.9M264.5 270.8V274.8M265.5 272.5V276.1M266.5 271.3V274.9M267.5 272.3V275.1M268.5 271.3V276.6M269.5 270.1V277.1M270.5 272.1V278.6M271.5 269.9V275.0M272.5 271.3V275.0M273.5 271.5V277.0M274.5 271.2V277.5M275.5 272.1V276.0M276.5 272.2V275.4M277.5 271.4V274.9M278.5 270.0V274.9M279.5 272.5V274.8M280.5 272.0V275.1M281.5 270.7V277.2M282.5 272.0V274.9M283.5 271.9V274.8M284.5 271.3V275.9M285.5 272.3V275.3M286.5 272.0V275.1M287.5 269.9V277.9M288.5 272.2V277.1M289.5 270.7V276.1M290.5 270.1V276.9M291.5 269.0V275.8M292.5 271.1V275.5M293.5 269.5V275.2M294.5 268.5V275.3M295.5 272.0V276.0M296.5 272.1V275.7M297.5 272.1V276.2M298.5 271.0V275.3M299.5 272.2V276.5M300.5 272.3V275.2M301.5 271.4V275.4M302.5 272.3V277.4M303.5 272.3V275.1M304.5 271.4V275.0M305.5 272.0V278.3M306.5 271.5V275.1M307.5 272.4V274.9M308.5 271.8V274.9M309.5 271.8V275.9M310.5 272.5V274.9M311.5 272.0V274.9M312.5 272.3V275.7M313.5 272.2V275.3M314.5 272.3V275.3M315.5 269.9V277.4M316.5 271.8V275.0M317.5 272.2V275.1M318.5 268.6V277.7M319.5 271.9V275.2M320.5 271.6V276.0M321.5 268.9V276.7M322.5 269.6V279.4M323.5 271.2V279.2M324.5 268.9V275.7M325.5 271.3V275.6M326.5 270.4V276.2M327.5 271.4V276.7M328.5 271.3V275.8M329.5 270.8V275.9M330.5 272.0V275.7M331.5 270.5V275.9M332.5 272.1V275.2M333.5 272.3V276.5M334.5 272.3V277.2M335.5 272.4V275.4M336.5 272.5V275.2M337.5 271.4V274.7M338.5 272.6V274.6M339.5 272.1V276.0M340.5 271.1V275.8M341.5 272.6V274.6M342.5 272.5V274.7M343.5 271.2V274.8M344.5 272.5V277.2M345.5 272.4V274.9M346.5 272.5V275.3M347.5 271.6V276.4M348.5 271.2V278.7M349.5 272.0V275.4M350.5 272.1V275.4M351.5 269.1V275.6M352.5 271.7V277.5M353.5 269.7V275.5M354.5 267.8V277.3M355.5 271.0V275.9M356.5 271.5V275.5M357.5 271.3V276.4M358.5 271.8V279.2M359.5 271.9V275.3M360.5 268.9V275.2M361.5 270.1V275.7M362.5 272.4V277.4M363.5 272.0V275.5M364.5 271.9V274.8M365.5 272.2V275.0M366.5 268.5V275.0M367.5 272.0V275.7M368.5 271.9V275.7M369.5 268.1V275.3M370.5 270.6V275.8M371.5 266.4V276.0M372.5 271.6V276.8M373.5 271.4V277.4M374.5 269.8V275.7M375.5 271.1V275.5M376.5 266.7V275.4M377.5 271.5V275.6M378.5 269.3V275.4M379.5 270.9V276.8M380.5 271.8V275.2M381.5 271.9V275.0M382.5 272.2V277.9M383.5 271.1V274.8M384.5 272.7V275.5M385.5 272.4V276.1M386.5 272.2V274.7M387.5 271.6V274.7M388.5 272.9V276.0M389.5 272.6V274.8M390.5 270.4V276.0M391.5 272.3V275.1M392.5 272.0V277.4M393.5 268.6V278.0M394.5 271.5V276.7M395.5 271.2V278.7M396.5 271.7V277.2M397.5 269.6V275.4M398.5 271.8V277.2M399.5 271.7V275.2M400.5 272.1V275.2M401.5 272.2V275.2M402.5 272.2V275.3M403.5 272.2V274.8M404.5 272.3V275.5M405.5 272.3V275.9M406.5 272.4V275.8M407.5 270.3V275.0M408.5 272.6V276.3M409.5 272.1V276.4M410.5 272.4V276.0M411.5 271.9V275.6M412.5 271.1V277.4M413.5 271.4V275.0M414.5 272.5V278.3M415.5 272.3V274.9M416.5 272.5V275.0M417.5 271.2V275.0M418.5 272.4V275.1M419.5 272.1V277.4M420.5 270.9V275.1M421.5 272.0V275.4M422.5 271.0V275.8M423.5 271.3V276.4M424.5 272.0V275.7M425.5 271.8V276.6M426.5 271.1V275.4M427.5 271.5V276.4M428.5 270.3V275.4M429.5 270.6V275.4M430.5 271.9V275.4M431.5 272.0V275.4M432.5 272.0V275.4M433.5 271.9V279.0M434.5 272.0V275.4M435.5 271.5V276.7M436.5 271.8V276.1M437.5 272.0V276.8M438.5 269.5V278.0M439.5 272.0V277.2M440.5 270.6V277.2M441.5 271.9V275.2M442.5 270.5V275.1M443.5 269.5V275.6M444.5 272.0V275.6M445.5 270.9V276.1M446.5 271.9V277.3M447.5 271.0V275.1M448.5 272.4V275.0M449.5 272.5V275.0M450.5 272.1V278.2M451.5 271.9V275.3M452.5 272.3V276.1M453.5 271.6V276.0M454.5 271.4V275.4M455.5 271.9V275.5M456.5 270.8V278.0M457.5 271.6V276.1M458.5 267.5V278.4M459.5 270.5V276.6M460.5 271.2V276.0M461.5 271.0V275.9M462.5 271.1V276.4M463.5 270.9V275.6M464.5 269.8V276.1M465.5 268.8V280.2M466.5 271.0V275.8M467.5 267.9V280.3M468.5 268.1V275.8M469.5 266.1V276.6M470.5 270.0V279.1M471.5 270.0V280.0M472.5 271.3V276.8M473.5 271.3V275.6M474.5 266.7V275.6M475.5 270.5V275.8M476.5 268.9V275.5M477.5 269.8V275.8M478.5 266.3V276.1M479.5 271.4V275.4M480.5 269.8V275.4M481.5 269.6V276.5M482.5 271.7V276.5M483.5 270.1V275.5M484.5 271.6V275.5M485.5 271.2V275.4M486.5 271.4V279.2M487.5 271.4V278.2M488.5 271.3V279.4M489.5 270.5V280.9M490.5 268.5V276.6M491.5 270.4V275.8M492.5 267.6V277.8M493.5 271.1V276.8M494.5 271.2V277.6M495.5 268.1V277.8M496.5 271.0V277.4M497.5 271.1V275.6M498.5 271.2V279.4M499.5 271.3V275.5M500.5 269.1V276.3M501.5 271.4V276.0M502.5 268.6V275.3M503.5 270.8V275.9M504.5 271.7V277.5M505.5 271.3V275.3M506.5 271.7V277.2M507.5 271.0V275.4M508.5 268.2V277.5M509.5 270.9V277.4M510.5 267.8V276.0M511.5 270.3V275.1M512.5 269.7V275.4M513.5 269.1V274.9M514.5 271.6V275.5M515.5 271.0V275.1M516.5 271.6V275.0M517.5 269.1V277.6M518.5 269.2V274.9M519.5 270.8V275.0M520.5 271.0V276.1M521.5 271.8V276.6M522.5 271.6V275.1M523.5 271.8V275.0M524.5 270.7V275.0M525.5 271.9V276.2M526.5 271.9V276.3M527.5 270.5V275.0M528.5 271.3V277.0M529.5 270.9V275.0M530.5 271.9V275.0M531.5 271.6V275.0M532.5 267.5V277.3M533.5 271.4V275.0M534.5 269.7V275.5M535.5 271.7V275.1M536.5 268.7V275.0M537.5 271.6V278.2M538.5 271.8V275.0M539.5 272.0V275.3M540.5 272.1V274.9M541.5 272.1V274.9M542.5 270.3V274.8M543.5 272.6V276.8M544.5 272.6V275.9M545.5 271.8V274.5M546.5 271.5V274.5M547.5 272.1V274.5M548.5 272.8V274.9M549.5 272.2V274.7M550.5 272.6V276.0M551.5 272.0V277.2M552.5 272.0V276.3M553.5 270.7V275.7M554.5 272.1V277.1M555.5 272.0V275.1M556.5 272.1V275.8M557.5 269.5V277.2M558.5 269.3V275.1M559.5 272.1V275.6M560.5 269.4V275.8M561.5 271.9V278.2M562.5 270.6V275.6M563.5 271.7V275.3M564.5 269.6V274.8M565.5 272.5V275.0M566.5 272.7V274.9M567.5 271.6V274.7M568.5 272.9V274.6M569.5 272.9V274.9M570.5 272.9V274.9M571.5 272.9V274.3M572.5 272.4V276.0M573.5 272.6V274.6M574.5 271.6V275.0M575.5 272.2V274.5M576.5 271.6V274.5M577.5 272.2V275.6M578.5 272.8V274.7M579.5 272.6V275.0M580.5 272.4V275.4M581.5 272.2V275.1M582.5 271.8V276.1M583.5 271.8V275.4M584.5 271.7V275.4M585.5 271.5V275.6M586.5 271.5V277.2M587.5 271.0V277.0M588.5 271.8V275.2M589.5 271.4V276.1M590.5 269.3V276.9M591.5 270.7V275.1M592.5 272.3V276.3M593.5 271.6V274.9M594.5 272.7V274.7M595.5 270.7V276.7M596.5 271.5V274.7M597.5 271.3V274.6M598.5 272.5V275.4M599.5 272.1V274.8M600.5 271.5V274.8M601.5 269.8V275.1M602.5 271.0V275.8M603.5 272.3V275.5M604.5 269.5V274.9M605.5 270.1V278.0M606.5 271.9V275.2M607.5 271.7V275.0M608.5 272.0V277.3M609.5 272.0V274.9M610.5 272.0V275.2M611.5 272.0V275.0M612.5 270.9V274.9M613.5 272.1V275.0M614.5 272.2V274.9M615.5 272.3V274.9M616.5 272.4V275.3M617.5 271.1V274.9M618.5 271.2V276.2M619.5 272.2V275.3M620.5 272.4V275.1M621.5 271.7V275.9M622.5 272.5V274.7M623.5 272.5V275.7M624.5 271.4V274.6M625.5 272.5V277.2M626.5 272.3V275.9M627.5 272.6V276.0M628.5 270.7V275.6M629.5 272.4V277.0M630.5 272.1V276.8M631.5 272.3V274.9M632.5 272.2V277.2M633.5 270.5V278.5M634.5 271.9V278.0M635.5 272.3V277.9M636.5 272.4V276.4M637.5 272.4V274.9M638.5 272.3V276.8M639.5 272.2V274.8M640.5 272.4V277.7M641.5 272.5V274.7M642.5 271.7V274.6M643.5 272.6V276.3M644.5 272.7V274.9M645.5 272.1V276.3M646.5 271.9V274.4M647.5 272.9V274.4M648.5 272.9V275.3M649.5 272.4V274.2" stroke="#a5391f" stroke-width="1" fill="none"/><polyline fill="none" stroke="#a5391f" stroke-width="1.1" stroke-linejoin="round" points="90.4,272.9 93.4,272.8 96.4,273 99.4,273.1 102.4,273.1 105.4,273 108.4,272.9 111.4,272.9 114.4,273.1" /><polyline fill="none" stroke="#a5391f" stroke-width="1.0" stroke-linejoin="round" points="651,274.6 652.2,273.3 653.4,272 654.6,272.2 655.8,274.5 657,273.3 658.2,271.5 659.4,273 660.6,272.1 661.8,272.5 663,272.7 664.2,272.5 665.4,273.6 666.6,273 667.8,272.6 669,273.5" /><g stroke="#6a6a6a" stroke-width="1.3" fill="none"><path d="M88,495.7 H94 V923 H688.2 V928.6"/><path d="M88,617.6 H94"/><path d="M88,739.6 H94"/><path d="M88,861.6 H94"/><path d="M94.0,923 V928.6"/><path d="M212.8,923 V928.6"/><path d="M331.7,923 V928.6"/><path d="M450.5,923 V928.6"/><path d="M569.4,923 V928.6"/></g><g font-size="20" fill="#222" text-anchor="end"><text x="77" y="501.5">4</text><text x="77" y="623.4">2</text><text x="77" y="745.4">0</text><text x="77" y="867.4" textLength="18" lengthAdjust="spacingAndGlyphs">-2</text></g><g font-size="20" fill="#222" text-anchor="middle"><text x="94.0" y="956.3">0</text><text x="212.8" y="956.3">1</text><text x="331.7" y="956.3">2</text><text x="450.5" y="956.3">3</text><text x="569.4" y="956.3">4</text><text x="688.2" y="956.3">5</text></g><text x="352.2" y="996.2" font-size="22.5" fill="#222" textLength="77.5" lengthAdjust="spacingAndGlyphs">time (s)</text><text transform="translate(41.2,920.6) rotate(-90)" font-size="23" fill="#222" textLength="424" lengthAdjust="spacingAndGlyphs">sEMG signal not on the motor point (mV)</text><polyline points="109.00,741.6 109.33,739.2 109.67,740.7 110.00,737.7 110.33,738.0 110.67,740.3 111.00,739.5 111.33,748.0 111.67,738.0 112.00,754.3 112.33,733.4 112.67,740.0 113.00,739.5 113.33,711.0 113.67,747.9 114.00,738.1 114.33,746.7 114.67,716.1 115.00,711.3 115.33,743.7 115.67,735.2 116.00,747.8 116.33,689.8 116.67,740.2 117.00,726.2 117.33,774.6 117.67,734.0 118.00,770.6 118.33,765.9 118.67,697.2 119.00,770.4 119.33,678.0 119.67,776.9 120.00,733.3 120.33,755.3 120.67,737.5 121.00,735.7 121.33,682.4 121.67,747.3 122.00,781.8 122.33,734.0 122.67,797.2 123.00,676.8 123.33,748.3 123.67,734.2 124.00,793.5 124.33,716.3 124.67,841.0 125.00,725.0 125.33,800.2 125.67,725.6 126.00,785.6 126.33,776.9 126.67,645.2 127.00,777.1 127.33,739.0 127.67,756.2 128.00,737.4 128.33,754.7 128.67,733.5 129.00,786.5 129.33,790.4 129.67,690.1 130.00,760.7 130.33,687.0 130.67,785.8 131.00,752.9 131.33,853.6 131.67,803.8 132.00,559.7 132.33,753.1 132.67,639.4 133.00,595.6 133.33,748.8 133.67,686.1 134.00,742.8 134.33,734.1 134.67,810.2 135.00,726.8 135.33,760.5 135.67,685.1 136.00,740.7 136.33,718.6 136.67,752.4 137.00,722.3 137.33,814.8 137.67,734.3 138.00,741.8 138.33,657.0 138.67,743.5 139.00,668.1 139.33,816.5 139.67,733.9 140.00,758.8 140.33,723.8 140.67,798.3 141.00,743.1 141.33,730.6 141.67,759.4 142.00,642.3 142.33,753.8 142.67,737.0 143.00,783.7 143.33,729.8 143.67,749.0 144.00,766.5 144.33,627.8 144.67,740.3 145.00,720.3 145.33,775.9 145.67,697.7 146.00,652.4 146.33,761.7 146.67,694.7 147.00,742.6 147.33,735.9 147.67,777.8 148.00,714.6 148.33,752.4 148.67,656.2 149.00,779.5 149.33,665.1 149.67,752.1 150.00,781.1 150.33,715.6 150.67,756.9 151.00,731.5 151.33,758.5 151.67,674.0 152.00,751.1 152.33,682.6 152.67,855.4 153.00,773.2 153.33,724.3 153.67,761.4 154.00,696.0 154.33,779.6 154.67,726.0 155.00,705.8 155.33,783.4 155.67,738.4 156.00,783.8 156.33,690.0 156.67,732.4 157.00,753.2 157.33,675.1 157.67,779.6 158.00,680.3 158.33,777.2 158.67,750.0 159.00,731.8 159.33,627.8 159.67,739.1 160.00,860.0 160.33,698.3 160.67,755.1 161.00,738.2 161.33,758.2 161.67,761.8 162.00,729.2 162.33,730.8 162.67,801.0 163.00,727.9 163.33,803.3 163.67,792.3 164.00,693.2 164.33,753.4 164.67,731.2 165.00,765.4 165.33,652.5 165.67,787.8 166.00,675.7 166.33,760.6 166.67,710.3 167.00,815.8 167.33,690.0 167.67,746.6 168.00,733.8 168.33,789.4 168.67,683.6 169.00,803.6 169.33,738.1 169.67,810.5 170.00,644.8 170.33,766.5 170.67,800.9 171.00,737.3 171.33,787.5 171.67,739.1 172.00,729.7 172.33,633.9 172.67,833.9 173.00,743.2 173.33,790.2 173.67,640.3 174.00,787.1 174.33,680.2 174.67,747.1 175.00,716.4 175.33,679.4 175.67,757.8 176.00,747.1 176.33,713.6 176.67,758.4 177.00,644.4 177.33,739.7 177.67,664.0 178.00,777.3 178.33,712.3 178.67,763.1 179.00,712.7 179.33,748.1 179.67,645.5 180.00,785.5 180.33,713.4 180.67,743.2 181.00,674.9 181.33,742.0 181.67,695.7 182.00,744.0 182.33,721.1 182.67,760.0 183.00,655.6 183.33,765.9 183.67,720.7 184.00,750.0 184.33,685.3 184.67,777.6 185.00,748.5 185.33,635.7 185.67,810.4 186.00,632.9 186.33,788.9 186.67,663.7 187.00,803.2 187.33,768.0 187.67,626.0 188.00,787.2 188.33,712.7 188.67,798.9 189.00,714.7 189.33,875.1 189.67,765.2 190.00,670.1 190.33,754.3 190.67,662.9 191.00,788.5 191.33,692.4 191.67,745.6 192.00,720.9 192.33,785.2 192.67,689.4 193.00,811.8 193.33,733.2 193.67,733.1 194.00,749.4 194.33,739.0 194.67,816.8 195.00,631.4 195.33,811.3 195.67,680.6 196.00,823.1 196.33,716.7 196.67,793.0 197.00,629.3 197.33,765.1 197.67,654.3 198.00,768.1 198.33,645.9 198.67,755.1 199.00,729.2 199.33,800.0 199.67,667.8 200.00,758.6 200.33,722.5 200.67,795.8 201.00,618.3 201.33,760.1 201.67,636.1 202.00,790.5 202.33,724.1 202.67,749.7 203.00,643.5 203.33,827.4 203.67,732.1 204.00,770.1 204.33,705.9 204.67,603.8 205.00,737.6 205.33,754.3 205.67,709.4 206.00,820.3 206.33,665.1 206.67,809.8 207.00,806.2 207.33,643.2 207.67,812.9 208.00,676.4 208.33,760.6 208.67,622.8 209.00,758.9 209.33,635.7 209.67,734.0 210.00,749.0 210.33,819.3 210.67,722.4 211.00,816.5 211.33,730.4 211.67,742.7 212.00,627.8 212.33,832.1 212.67,738.9 213.00,818.0 213.33,726.9 213.67,754.6 214.00,713.6 214.33,753.2 214.67,731.5 215.00,760.8 215.33,694.7 215.67,743.3 216.00,722.8 216.33,742.8 216.67,683.5 217.00,792.9 217.33,734.1 217.67,763.4 218.00,728.3 218.33,757.2 218.67,717.2 219.00,761.7 219.33,718.7 219.67,788.4 220.00,727.8 220.33,746.8 220.67,775.9 221.00,722.7 221.33,799.6 221.67,673.9 222.00,795.8 222.33,725.7 222.67,749.9 223.00,657.6 223.33,630.3 223.67,772.2 224.00,678.5 224.33,772.7 224.67,680.9 225.00,800.1 225.33,717.4 225.67,756.4 226.00,730.9 226.33,771.2 226.67,664.7 227.00,770.8 227.33,724.6 227.67,745.5 228.00,725.6 228.33,775.1 228.67,718.5 229.00,679.0 229.33,754.3 229.67,790.4 230.00,739.6 230.33,774.2 230.67,721.6 231.00,741.3 231.33,702.5 231.67,632.5 232.00,717.6 232.33,791.0 232.67,730.8 233.00,794.4 233.33,702.1 233.67,673.0 234.00,723.2 234.33,753.4 234.67,730.8 235.00,757.7 235.33,694.1 235.67,759.3 236.00,734.6 236.33,757.2 236.67,732.7 237.00,635.0 237.33,701.0 237.67,761.8 238.00,743.2 238.33,690.9 238.67,750.5 239.00,733.4 239.33,780.7 239.67,716.3 240.00,782.3 240.33,680.3 240.67,806.2 241.00,685.4 241.33,744.1 241.67,716.1 242.00,777.0 242.33,737.0 242.67,743.7 243.00,731.2 243.33,812.4 243.67,662.9 244.00,747.6 244.33,714.7 244.67,586.6 245.00,721.1 245.33,753.0 245.67,643.6 246.00,758.4 246.33,755.8 246.67,713.2 247.00,768.6 247.33,720.5 247.67,745.1 248.00,670.6 248.33,745.7 248.67,733.5 249.00,755.5 249.33,716.7 249.67,744.5 250.00,621.1 250.33,784.8 250.67,716.4 251.00,812.6 251.33,830.3 251.67,685.2 252.00,742.4 252.33,678.8 252.67,764.2 253.00,755.6 253.33,683.7 253.67,721.3 254.00,790.4 254.33,732.4 254.67,764.2 255.00,720.4 255.33,763.8 255.67,764.0 256.00,651.2 256.33,796.4 256.67,675.5 257.00,741.0 257.33,723.6 257.67,755.2 258.00,720.1 258.33,785.9 258.67,724.3 259.00,749.1 259.33,723.6 259.67,699.7 260.00,743.3 260.33,733.7 260.67,779.5 261.00,659.9 261.33,748.6 261.67,663.3 262.00,747.2 262.33,671.3 262.67,744.7 263.00,668.6 263.33,760.3 263.67,826.7 264.00,778.5 264.33,699.8 264.67,747.1 265.00,696.7 265.33,742.9 265.67,686.5 266.00,741.6 266.33,678.7 266.67,753.6 267.00,691.0 267.33,742.9 267.67,717.1 268.00,782.9 268.33,695.8 268.67,757.3 269.00,721.4 269.33,673.1 269.67,790.6 270.00,665.6 270.33,793.3 270.67,722.7 271.00,765.0 271.33,734.7 271.67,796.0 272.00,738.0 272.33,719.3 272.67,741.1 273.00,730.2 273.33,800.5 273.67,679.5 274.00,804.3 274.33,691.7 274.67,779.5 275.00,721.9 275.33,759.5 275.67,712.5 276.00,763.6 276.33,685.9 276.67,788.6 277.00,689.0 277.33,717.3 277.67,630.7 278.00,714.5 278.33,747.4 278.67,642.2 279.00,758.9 279.33,735.8 279.67,758.6 280.00,720.6 280.33,722.5 280.67,778.5 281.00,729.1 281.33,744.1 281.67,713.3 282.00,751.1 282.33,736.5 282.67,746.8 283.00,638.3 283.33,756.6 283.67,687.1 284.00,714.5 284.33,765.2 284.67,670.6 285.00,797.0 285.33,724.9 285.67,757.1 286.00,720.0 286.33,788.2 286.67,733.5 287.00,794.0 287.33,737.3 287.67,670.4 288.00,649.7 288.33,755.0 288.67,725.7 289.00,801.2 289.33,714.5 289.67,766.0 290.00,722.4 290.33,743.7 290.67,748.0 291.00,738.1 291.33,691.3 291.67,758.0 292.00,677.7 292.33,760.6 292.67,699.3 293.00,761.1 293.33,700.7 293.67,777.9 294.00,720.5 294.33,779.0 294.67,725.3 295.00,754.9 295.33,729.3 295.67,663.1 296.00,747.7 296.33,719.4 296.67,753.1 297.00,738.8 297.33,746.0 297.67,722.4 298.00,754.7 298.33,719.1 298.67,618.9 299.00,728.0 299.33,760.5 299.67,716.2 300.00,743.4 300.33,759.1 300.67,738.3 301.00,788.6 301.33,715.9 301.67,803.4 302.00,719.5 302.33,762.7 302.67,699.0 303.00,742.3 303.33,747.4 303.67,715.3 304.00,789.7 304.33,676.2 304.67,760.7 305.00,721.9 305.33,764.4 305.67,681.9 306.00,764.8 306.33,731.2 306.67,782.0 307.00,658.1 307.33,674.0 307.67,811.0 308.00,815.7 308.33,720.6 308.67,762.5 309.00,721.4 309.33,795.4 309.67,722.2 310.00,742.4 310.33,717.6 310.67,736.8 311.00,768.0 311.33,726.6 311.67,739.9 312.00,671.4 312.33,784.1 312.67,715.5 313.00,788.8 313.33,737.4 313.67,799.3 314.00,641.1 314.33,762.9 314.67,717.3 315.00,651.1 315.33,752.0 315.67,727.1 316.00,782.7 316.33,725.5 316.67,752.0 317.00,693.5 317.33,819.0 317.67,725.8 318.00,793.2 318.33,669.6 318.67,738.7 319.00,765.8 319.33,662.3 319.67,741.4 320.00,690.8 320.33,787.2 320.67,714.8 321.00,725.4 321.33,783.9 321.67,642.3 322.00,757.0 322.33,683.7 322.67,743.4 323.00,735.2 323.33,747.7 323.67,654.8 324.00,747.3 324.33,724.6 324.67,781.4 325.00,676.4 325.33,754.8 325.67,726.5 326.00,764.5 326.33,738.7 326.67,716.6 327.00,669.4 327.33,736.6 327.67,775.8 328.00,650.0 328.33,758.5 328.67,801.8 329.00,737.3 329.33,764.8 329.67,691.9 330.00,759.3 330.33,649.7 330.67,760.4 331.00,736.4 331.33,772.5 331.67,663.7 332.00,743.0 332.33,797.0 332.67,697.9 333.00,783.5 333.33,720.2 333.67,740.2 334.00,732.0 334.33,746.2 334.67,662.6 335.00,785.2 335.33,739.3 335.67,776.9 336.00,695.5 336.33,774.0 336.67,748.1 337.00,716.1 337.33,747.6 337.67,728.2 338.00,796.9 338.33,671.3 338.67,778.2 339.00,735.4 339.33,742.0 339.67,715.2 340.00,773.6 340.33,695.2 340.67,742.4 341.00,682.8 341.33,799.4 341.67,731.0 342.00,761.3 342.33,716.0 342.67,788.3 343.00,729.8 343.33,760.4 343.67,738.0 344.00,744.9 344.33,832.1 344.67,791.0 345.00,689.2 345.33,781.9 345.67,719.5 346.00,743.3 346.33,729.4 346.67,759.1 347.00,714.3 347.33,777.4 347.67,733.8 348.00,743.6 348.33,737.1 348.67,713.3 349.00,723.5 349.33,740.9 349.67,737.9 350.00,758.5 350.33,636.7 350.67,746.0 351.00,691.6 351.33,755.7 351.67,734.9 352.00,818.0 352.33,722.6 352.67,762.7 353.00,736.3 353.33,766.4 353.67,726.9 354.00,740.0 354.33,672.2 354.67,783.5 355.00,734.7 355.33,768.9 355.67,711.4 356.00,763.4 356.33,715.2 356.67,764.6 357.00,731.5 357.33,744.0 357.67,720.5 358.00,767.2 358.33,654.5 358.67,743.4 359.00,694.4 359.33,744.2 359.67,644.7 360.00,752.8 360.33,738.0 360.67,763.8 361.00,695.9 361.33,796.4 361.67,786.0 362.00,714.6 362.33,826.7 362.67,729.8 363.00,757.2 363.33,699.0 363.67,796.3 364.00,720.2 364.33,738.7 364.67,788.1 365.00,786.9 365.33,733.6 365.67,761.5 366.00,675.0 366.33,793.5 366.67,721.4 367.00,758.4 367.33,738.9 367.67,772.7 368.00,718.0 368.33,755.6 368.67,682.5 369.00,723.3 369.33,798.1 369.67,720.9 370.00,799.0 370.33,697.6 370.67,798.3 371.00,732.3 371.33,754.0 371.67,756.1 372.00,717.4 372.33,742.8 372.67,731.5 373.00,749.1 373.33,719.1 373.67,751.0 374.00,741.1 374.33,732.0 374.67,784.7 375.00,725.2 375.33,741.0 375.67,703.2 376.00,774.4 376.33,736.7 376.67,678.4 377.00,796.2 377.33,697.6 377.67,784.4 378.00,682.1 378.33,785.9 378.67,743.6 379.00,722.2 379.33,751.3 379.67,611.7 380.00,740.5 380.33,717.0 380.67,788.4 381.00,728.4 381.33,747.6 381.67,719.0 382.00,739.9 382.33,686.3 382.67,693.7 383.00,761.3 383.33,669.2 383.67,799.9 384.00,638.2 384.33,791.7 384.67,686.9 385.00,748.8 385.33,777.9 385.67,719.6 386.00,762.6 386.33,687.0 386.67,744.9 387.00,689.5 387.33,753.7 387.67,738.0 388.00,810.2 388.33,670.1 388.67,769.4 389.00,727.4 389.33,763.7 389.67,609.9 390.00,642.0 390.33,755.1 390.67,674.0 391.00,761.2 391.33,794.1 391.67,737.2 392.00,750.9 392.33,682.5 392.67,805.6 393.00,712.5 393.33,758.6 393.67,651.5 394.00,752.0 394.33,713.7 394.67,757.5 395.00,720.0 395.33,752.6 395.67,731.2 396.00,768.4 396.33,757.8 396.67,755.7 397.00,718.8 397.33,757.8 397.67,663.0 398.00,762.1 398.33,715.6 398.67,746.7 399.00,724.1 399.33,790.0 399.67,718.3 400.00,715.3 400.33,790.1 400.67,782.7 401.00,685.9 401.33,758.3 401.67,688.9 402.00,722.0 402.33,748.8 402.67,665.2 403.00,782.8 403.33,600.2 403.67,757.9 404.00,718.8 404.33,766.1 404.67,679.2 405.00,782.3 405.33,717.3 405.67,732.8 406.00,761.4 406.33,751.9 406.67,741.3 407.00,669.8 407.33,761.7 407.67,649.1 408.00,744.5 408.33,732.2 408.67,791.5 409.00,696.6 409.33,747.5 409.67,720.3 410.00,742.9 410.33,837.5 410.67,759.2 411.00,724.9 411.33,775.1 411.67,729.2 412.00,747.5 412.33,762.2 412.67,699.4 413.00,750.8 413.33,701.3 413.67,757.3 414.00,721.2 414.33,776.2 414.67,689.7 415.00,748.3 415.33,701.7 415.67,761.5 416.00,670.7 416.33,780.3 416.67,695.3 417.00,755.8 417.33,736.9 417.67,752.0 418.00,696.5 418.33,754.6 418.67,719.9 419.00,776.2 419.33,675.4 419.67,758.0 420.00,715.5 420.33,756.7 420.67,733.9 421.00,741.0 421.33,724.2 421.67,774.2 422.00,678.8 422.33,806.6 422.67,737.0 423.00,741.8 423.33,720.7 423.67,798.0 424.00,799.3 424.33,728.4 424.67,744.3 425.00,729.1 425.33,729.8 425.67,751.0 426.00,725.9 426.33,811.5 426.67,733.2 427.00,806.1 427.33,818.0 427.67,725.1 428.00,752.4 428.33,738.3 428.67,750.8 429.00,650.9 429.33,752.2 429.67,710.2 430.00,741.4 430.33,730.9 430.67,754.4 431.00,716.2 431.33,813.7 431.67,656.3 432.00,804.4 432.33,709.7 432.67,786.9 433.00,723.0 433.33,784.3 433.67,687.7 434.00,758.8 434.33,645.8 434.67,747.6 435.00,723.9 435.33,766.9 435.67,797.5 436.00,719.0 436.33,727.2 436.67,794.1 437.00,769.1 437.33,707.6 437.67,762.1 438.00,621.3 438.33,758.2 438.67,675.4 439.00,749.5 439.33,739.3 439.67,742.4 440.00,688.9 440.33,639.6 440.67,717.0 441.00,741.9 441.33,687.4 441.67,792.6 442.00,682.6 442.33,791.8 442.67,733.5 443.00,745.9 443.33,640.0 443.67,740.9 444.00,737.3 444.33,783.0 444.67,690.1 445.00,751.5 445.33,731.3 445.67,761.1 446.00,715.5 446.33,774.8 446.67,683.3 447.00,763.7 447.33,729.3 447.67,783.2 448.00,725.8 448.33,776.8 448.67,696.2 449.00,749.4 449.33,725.4 449.67,771.8 450.00,743.3 450.33,723.2 450.67,793.6 451.00,691.1 451.33,750.2 451.67,735.8 452.00,777.3 452.33,702.3 452.67,747.9 453.00,656.2 453.33,792.4 453.67,718.2 454.00,792.7 454.33,750.4 454.67,732.5 455.00,781.8 455.33,725.2 455.67,762.6 456.00,689.8 456.33,809.6 456.67,696.5 457.00,743.9 457.33,787.4 457.67,790.1 458.00,679.3 458.33,801.0 458.67,681.2 459.00,760.6 459.33,720.0 459.67,813.1 460.00,723.5 460.33,764.5 460.67,657.4 461.00,764.6 461.33,733.9 461.67,806.4 462.00,646.7 462.33,762.1 462.67,683.8 463.00,790.5 463.33,681.0 463.67,817.8 464.00,733.4 464.33,820.9 464.67,638.2 465.00,757.5 465.33,636.9 465.67,765.8 466.00,833.2 466.33,767.9 466.67,710.7 467.00,795.4 467.33,719.1 467.67,616.3 468.00,712.0 468.33,803.7 468.67,654.4 469.00,736.9 469.33,760.1 469.67,765.3 470.00,630.3 470.33,764.0 470.67,709.3 471.00,803.5 471.33,713.9 471.67,750.7 472.00,661.9 472.33,740.4 472.67,670.9 473.00,767.1 473.33,659.7 473.67,804.5 474.00,637.9 474.33,764.5 474.67,718.7 475.00,743.8 475.33,672.1 475.67,633.9 476.00,718.3 476.33,767.4 476.67,726.3 477.00,744.5 477.33,713.8 477.67,754.3 478.00,671.9 478.33,746.6 478.67,653.6 479.00,778.0 479.33,728.4 479.67,766.3 480.00,736.2 480.33,752.4 480.67,665.6 481.00,744.6 481.33,673.0 481.67,660.5 482.00,754.9 482.33,641.4 482.67,757.0 483.00,715.2 483.33,782.5 483.67,684.0 484.00,792.9 484.33,688.2 484.67,763.3 485.00,670.4 485.33,760.7 485.67,650.6 486.00,798.9 486.33,733.3 486.67,784.4 487.00,733.9 487.33,812.8 487.67,665.8 488.00,761.6 488.33,713.2 488.67,751.6 489.00,733.2 489.33,752.0 489.67,746.4 490.00,732.7 490.33,741.8 490.67,727.0 491.00,782.2 491.33,734.6 491.67,755.3 492.00,730.5 492.33,818.4 492.67,654.8 493.00,740.1 493.33,720.5 493.67,793.6 494.00,684.6 494.33,788.4 494.67,638.0 495.00,747.4 495.33,730.6 495.67,765.4 496.00,711.5 496.33,765.1 496.67,724.2 497.00,795.1 497.33,710.9 497.67,730.5 498.00,751.4 498.33,634.8 498.67,816.4 499.00,715.7 499.33,618.1 499.67,732.5 500.00,828.5 500.33,729.4 500.67,815.8 501.00,715.4 501.33,747.9 501.67,721.9 502.00,696.0 502.33,640.3 502.67,759.1 503.00,722.7 503.33,798.5 503.67,718.0 504.00,812.8 504.33,694.1 504.67,811.5 505.00,718.9 505.33,762.0 505.67,692.3 506.00,777.6 506.33,694.7 506.67,807.1 507.00,733.3 507.33,803.6 507.67,721.2 508.00,779.6 508.33,721.1 508.67,762.8 509.00,735.9 509.33,798.9 509.67,675.9 510.00,745.2 510.33,738.0 510.67,813.0 511.00,697.7 511.33,741.4 511.67,712.9 512.00,753.7 512.33,719.3 512.67,742.5 513.00,738.8 513.33,809.0 513.67,716.8 514.00,767.1 514.33,631.5 514.67,756.8 515.00,675.7 515.33,750.9 515.67,653.9 516.00,787.8 516.33,675.4 516.67,824.0 517.00,729.3 517.33,740.5 517.67,649.7 518.00,803.8 518.33,735.1 518.67,790.9 519.00,670.7 519.33,740.6 519.67,684.8 520.00,802.9 520.33,664.6 520.67,746.1 521.00,685.6 521.33,686.7 521.67,753.2 522.00,736.0 522.33,762.9 522.67,736.5 523.00,768.2 523.33,643.4 523.67,731.4 524.00,830.9 524.33,729.5 524.67,821.3 525.00,770.1 525.33,623.2 525.67,662.6 526.00,762.3 526.33,720.8 526.67,811.5 527.00,726.0 527.33,804.2 527.67,711.9 528.00,785.9 528.33,709.9 528.67,823.4 529.00,625.7 529.33,759.2 529.67,720.3 530.00,770.8 530.33,724.2 530.67,752.4 531.00,671.3 531.33,753.2 531.67,678.7 532.00,758.4 532.33,615.0 532.67,790.6 533.00,619.1 533.33,769.0 533.67,728.2 534.00,788.4 534.33,723.2 534.67,797.7 535.00,715.3 535.33,741.5 535.67,725.2 536.00,762.6 536.33,735.7 536.67,744.5 537.00,691.6 537.33,788.8 537.67,763.4 538.00,727.2 538.33,817.6 538.67,727.0 539.00,723.3 539.33,802.2 539.67,721.0 540.00,795.3 540.33,642.6 540.67,742.2 541.00,724.3 541.33,729.2 541.67,744.4 542.00,652.2 542.33,801.2 542.67,654.3 543.00,750.0 543.33,692.6 543.67,665.5 544.00,781.9 544.33,729.0 544.67,759.7 545.00,736.6 545.33,795.6 545.67,669.7 546.00,803.6 546.33,725.2 546.67,760.1 547.00,658.1 547.33,761.0 547.67,720.8 548.00,758.6 548.33,734.0 548.67,764.3 549.00,729.0 549.33,782.7 549.67,739.1 550.00,796.2 550.33,828.5 550.67,746.2 551.00,730.2 551.33,759.9 551.67,719.2 552.00,758.4 552.33,717.3 552.67,728.5 553.00,762.2 553.33,733.2 553.67,798.0 554.00,736.3 554.33,743.4 554.67,659.1 555.00,729.4 555.33,778.0 555.67,665.6 556.00,758.2 556.33,719.5 556.67,780.0 557.00,733.6 557.33,740.7 557.67,748.0 558.00,719.3 558.33,777.2 558.67,657.0 559.00,668.7 559.33,782.2 559.67,716.1 560.00,762.9 560.33,725.1 560.67,788.6 561.00,718.6 561.33,763.7 561.67,715.6 562.00,755.3 562.33,723.5 562.67,751.8 563.00,720.5 563.33,760.5 563.67,717.1 564.00,803.9 564.33,730.8 564.67,629.6 565.00,760.7 565.33,732.4 565.67,799.0 566.00,693.6 566.33,788.5 566.67,740.7 567.00,661.8 567.33,759.1 567.67,718.6 568.00,748.9 568.33,733.0 568.67,786.4 569.00,628.9 569.33,812.3 569.67,689.2 570.00,777.1 570.33,717.3 570.67,814.0 571.00,723.8 571.33,766.3 571.67,775.5 572.00,753.1 572.33,646.4 572.67,798.0 573.00,675.4 573.33,752.5 573.67,644.4 574.00,756.1 574.33,713.7 574.67,716.3 575.00,744.1 575.33,688.8 575.67,795.6 576.00,652.1 576.33,780.9 576.67,719.7 577.00,635.0 577.33,660.1 577.67,754.5 578.00,717.3 578.33,750.9 578.67,733.0 579.00,776.1 579.33,715.0 579.67,784.2 580.00,691.3 580.33,737.1 580.67,743.8 581.00,723.6 581.33,755.0 581.67,722.1 582.00,799.2 582.33,698.7 582.67,744.8 583.00,690.6 583.33,775.1 583.67,718.3 584.00,748.7 584.33,681.1 584.67,809.8 585.00,726.2 585.33,749.7 585.67,730.5 586.00,728.4 586.33,756.3 586.67,714.3 587.00,789.8 587.33,677.0 587.67,759.6 588.00,720.6 588.33,757.7 588.67,742.0 589.00,671.4 589.33,642.3 589.67,818.7 590.00,809.3 590.33,718.3 590.67,810.7 591.00,645.1 591.33,746.7 591.67,694.3 592.00,760.6 592.33,696.1 592.67,762.7 593.00,727.8 593.33,764.6 593.67,724.4 594.00,742.5 594.33,662.3 594.67,695.3 595.00,745.8 595.33,697.6 595.67,791.5 596.00,674.3 596.33,751.3 596.67,733.5 597.00,761.5 597.33,695.7 597.67,745.5 598.00,646.0 598.33,724.2 598.67,799.2 599.00,719.8 599.33,745.6 599.67,698.7 600.00,741.1 600.33,720.2 600.67,781.2 601.00,669.5 601.33,716.8 601.67,794.6 602.00,732.6 602.33,665.5 602.67,741.8 603.00,696.8 603.33,752.3 603.67,673.4 604.00,777.0 604.33,654.0 604.67,744.1 605.00,658.6 605.33,790.3 605.67,647.6 606.00,794.7 606.33,668.5 606.67,743.2 607.00,733.2 607.33,742.0 607.67,626.0 608.00,742.0 608.33,781.7 608.67,642.2 609.00,776.1 609.33,657.9 609.67,749.0 610.00,642.5 610.33,765.4 610.67,719.9 611.00,758.8 611.33,732.3 611.67,759.8 612.00,727.5 612.33,755.6 612.67,638.6 613.00,793.2 613.33,672.7 613.67,634.3 614.00,817.9 614.33,734.2 614.67,765.7 615.00,658.9 615.33,766.6 615.67,684.7 616.00,667.5 616.33,747.7 616.67,713.5 617.00,804.3 617.33,662.6 617.67,785.8 618.00,721.6 618.33,748.8 618.67,644.1 619.00,761.3 619.33,722.6 619.67,759.6 620.00,799.6 620.33,727.5 620.67,759.0 621.00,658.3 621.33,776.7 621.67,725.7 622.00,757.9 622.33,717.3 622.67,754.5 623.00,724.7 623.33,757.5 623.67,667.7 624.00,753.0 624.33,737.4 624.67,761.9 625.00,698.2 625.33,738.0 625.67,739.4 626.00,740.6 626.33,685.7 626.67,697.0 627.00,800.9 627.33,649.2 627.67,783.2 628.00,655.8 628.33,752.3 628.67,698.2 629.00,788.4 629.33,728.7 629.67,784.7 630.00,716.6 630.33,759.7 630.67,643.8 631.00,764.9 631.33,666.6 631.67,777.4 632.00,632.5 632.33,747.6 632.67,717.7 633.00,760.7 633.33,734.9 633.67,752.1 634.00,673.6 634.33,747.0 634.67,795.5 635.00,712.9 635.33,761.3 635.67,683.3 636.00,745.1 636.33,693.1 636.67,805.3 637.00,776.1 637.33,666.8 637.67,676.9 638.00,742.5 638.33,723.5 638.67,759.5 639.00,751.7 639.33,689.3 639.67,798.3 640.00,735.9 640.33,752.0 640.67,645.5 641.00,748.8 641.33,671.3 641.67,802.6 642.00,734.6 642.33,832.1 642.67,793.9 643.00,738.7 643.33,790.1 643.67,739.6 644.00,759.6 644.33,714.6 644.67,742.8 645.00,673.0 645.33,749.0 645.67,717.8 646.00,746.0 646.33,711.4 646.67,782.8 647.00,729.7 647.33,753.4 647.67,734.5 648.00,734.1 648.33,747.7 648.67,706.6 649.00,763.4 649.33,716.2 649.67,753.6 650.00,723.5 650.33,747.5 650.67,734.9 651.00,734.6 651.33,766.2 651.67,714.8 652.00,759.3 652.33,736.4 652.67,745.6 653.00,735.0 653.33,739.1 653.67,740.5 654.00,703.8 654.33,740.1 654.67,730.7 655.00,744.1 655.33,737.0 655.67,739.9 656.00,717.6 656.33,757.7 656.67,715.3 657.00,741.0 657.33,731.1 657.67,740.8 658.00,744.1 658.33,729.5 658.67,749.4 659.00,708.2 659.33,716.8 659.67,747.3 660.00,716.2 660.33,741.7 660.67,733.7" stroke="#5a5a5a" stroke-width="0.8" fill="none"/><path d="M118.5 726.3V747.0M119.5 721.4V744.4M120.5 727.3V746.2M121.5 730.5V748.9M122.5 728.0V753.4M123.5 704.6V758.9M124.5 708.2V753.4M125.5 726.8V755.9M126.5 724.4V785.3M127.5 728.8V780.0M128.5 708.7V755.7M129.5 725.9V766.5M130.5 703.4V763.2M131.5 719.0V810.7M132.5 715.7V771.7M133.5 694.1V768.1M134.5 689.8V769.3M135.5 639.0V836.9M136.5 620.6V810.0M137.5 689.7V841.5M138.5 702.6V847.5M139.5 622.0V795.8M140.5 660.5V772.9M141.5 704.3V837.1M142.5 688.3V798.4M143.5 708.0V767.1M144.5 709.7V780.0M145.5 709.9V764.3M146.5 711.3V773.5M147.5 675.0V760.0M148.5 707.5V766.6M149.5 714.8V758.2M150.5 711.2V763.0M151.5 707.5V766.6M152.5 698.4V759.6M153.5 702.3V779.6M154.5 710.8V761.7M155.5 690.1V766.0M156.5 665.9V763.0M157.5 672.6V764.0M158.5 696.6V779.1M159.5 703.1V762.0M160.5 693.3V762.2M161.5 716.8V778.1M162.5 716.8V812.5M163.5 681.3V796.5M164.5 718.1V809.8M165.5 693.9V806.6M166.5 707.3V785.6M167.5 711.2V812.1M168.5 720.0V767.2M169.5 711.0V784.9M170.5 715.9V761.7M171.5 708.5V786.1M172.5 719.4V806.3M173.5 717.2V760.1M174.5 673.5V779.8M175.5 717.0V759.3M176.5 716.8V766.3M177.5 719.0V760.8M178.5 680.8V759.4M179.5 716.9V759.9M180.5 706.3V787.9M181.5 717.3V760.9M182.5 717.0V762.9M183.5 713.6V768.3M184.5 667.1V762.6M185.5 717.1V800.6M186.5 670.6V775.2M187.5 700.2V764.9M188.5 716.8V768.2M189.5 715.7V774.8M190.5 683.6V796.3M191.5 699.7V780.6M192.5 676.0V773.9M193.5 717.1V763.4M194.5 716.6V770.0M195.5 717.1V799.9M196.5 701.7V796.1M197.5 715.8V764.5M198.5 710.5V759.8M199.5 712.6V763.0M200.5 691.6V758.3M201.5 720.8V756.9M202.5 707.8V755.7M203.5 698.8V767.1M204.5 721.1V771.7M205.5 722.2V755.6M206.5 724.2V756.4M207.5 697.5V751.5M208.5 722.6V753.2M209.5 709.8V753.9M210.5 689.0V767.1M211.5 707.6V752.9M212.5 694.5V761.9M213.5 711.8V753.8M214.5 712.6V754.6M215.5 697.7V763.3M216.5 702.5V754.4M217.5 714.6V768.8M218.5 713.7V756.9M219.5 696.0V777.0M220.5 714.9V757.2M221.5 710.4V783.5M222.5 712.2V764.5M223.5 714.5V764.9M224.5 659.3V761.6M225.5 712.0V763.5M226.5 663.8V811.3M227.5 715.7V761.3M228.5 684.6V787.1M229.5 717.0V762.6M230.5 717.5V766.7M231.5 711.5V762.9M232.5 670.9V767.8M233.5 680.8V799.7M234.5 708.5V771.1M235.5 711.8V789.1M236.5 718.5V763.5M237.5 720.8V764.6M238.5 674.9V765.4M239.5 719.6V783.0M240.5 717.9V759.0M241.5 713.4V757.6M242.5 722.1V759.3M243.5 723.9V764.6M244.5 692.2V765.3M245.5 723.6V759.5M246.5 699.6V753.7M247.5 688.9V754.9M248.5 725.1V757.2M249.5 703.8V779.0M250.5 725.8V796.1M251.5 725.6V756.6M252.5 712.7V757.3M253.5 726.2V758.3M254.5 725.2V784.8M255.5 698.5V797.9M256.5 725.3V758.7M257.5 708.6V771.8M258.5 718.3V795.1M259.5 716.2V760.4M260.5 717.6V754.8M261.5 715.9V773.6M262.5 726.7V756.9M263.5 725.7V751.8M264.5 726.9V766.8M265.5 720.3V750.6M266.5 726.2V756.2M267.5 725.5V760.1M268.5 717.7V773.2M269.5 720.4V782.6M270.5 714.9V756.1M271.5 714.9V770.5M272.5 719.3V768.5M273.5 716.8V780.5M274.5 718.3V782.6M275.5 700.9V780.1M276.5 692.0V781.1M277.5 717.6V785.3M278.5 707.7V770.1M279.5 719.3V802.5M280.5 711.1V768.7M281.5 720.3V766.5M282.5 720.7V769.5M283.5 720.0V783.5M284.5 712.8V791.3M285.5 686.6V780.3M286.5 701.8V799.9M287.5 719.9V758.8M288.5 719.1V762.4M289.5 715.1V781.2M290.5 662.4V760.6M291.5 688.4V765.5M292.5 697.3V761.8M293.5 678.0V792.4M294.5 707.7V817.6M295.5 712.6V763.1M296.5 664.5V793.2M297.5 714.4V765.0M298.5 717.2V760.6M299.5 718.4V759.3M300.5 719.6V780.2M301.5 721.6V765.3M302.5 721.6V756.5M303.5 710.5V757.4M304.5 708.7V754.6M305.5 724.5V759.6M306.5 717.8V787.0M307.5 722.5V767.0M308.5 705.3V770.4M309.5 697.2V758.4M310.5 714.1V782.4M311.5 686.4V792.6M312.5 711.1V795.3M313.5 701.4V765.3M314.5 657.3V766.3M315.5 714.0V761.9M316.5 709.6V761.0M317.5 708.7V791.0M318.5 711.2V760.4M319.5 712.7V790.9M320.5 698.6V794.3M321.5 708.3V764.2M322.5 718.1V787.4M323.5 715.9V769.6M324.5 698.8V761.8M325.5 719.6V758.9M326.5 699.0V766.8M327.5 686.2V785.6M328.5 696.5V759.1M329.5 721.4V758.5M330.5 705.4V762.8M331.5 713.6V790.5M332.5 698.0V754.5M333.5 721.3V759.5M334.5 707.7V786.7M335.5 721.8V758.8M336.5 720.2V787.5M337.5 703.7V759.2M338.5 711.1V759.7M339.5 688.5V760.9M340.5 666.4V762.7M341.5 679.4V771.1M342.5 712.5V775.7M343.5 709.5V766.7M344.5 709.7V787.7M345.5 710.6V783.4M346.5 700.7V769.2M347.5 713.4V820.2M348.5 692.9V763.6M349.5 714.4V777.6M350.5 699.2V771.6M351.5 709.6V802.3M352.5 717.1V785.2M353.5 717.9V759.3M354.5 711.0V782.0M355.5 715.0V788.9M356.5 686.6V804.3M357.5 713.0V772.2M358.5 709.3V763.6M359.5 711.9V761.5M360.5 697.1V769.8M361.5 696.0V808.0M362.5 680.2V767.5M363.5 695.3V765.1M364.5 710.0V766.5M365.5 691.9V764.7M366.5 711.4V772.7M367.5 697.1V797.2M368.5 646.1V767.3M369.5 640.8V770.6M370.5 710.2V778.6M371.5 702.5V765.3M372.5 681.3V762.0M373.5 694.6V775.9M374.5 684.5V783.5M375.5 691.2V760.9M376.5 680.5V778.3M377.5 704.5V765.9M378.5 709.6V762.9M379.5 684.9V759.3M380.5 695.5V759.8M381.5 691.2V790.8M382.5 694.9V786.5M383.5 709.3V757.8M384.5 705.4V767.5M385.5 715.0V771.6M386.5 685.2V805.0M387.5 709.1V762.7M388.5 678.1V773.1M389.5 720.2V759.7M390.5 719.1V802.7M391.5 721.9V792.2M392.5 717.9V759.2M393.5 722.9V772.1M394.5 722.5V762.3M395.5 690.8V763.5M396.5 707.6V760.9M397.5 721.1V779.1M398.5 696.3V772.5M399.5 705.2V760.8M400.5 697.6V761.0M401.5 713.3V770.0M402.5 718.3V792.3M403.5 671.1V799.7M404.5 709.2V816.1M405.5 714.0V762.5M406.5 702.1V796.1M407.5 714.3V763.4M408.5 709.2V772.9M409.5 713.6V777.7M410.5 713.0V764.1M411.5 695.0V764.9M412.5 711.7V790.9M413.5 656.4V800.5M414.5 712.8V787.9M415.5 713.2V765.4M416.5 678.4V818.3M417.5 717.3V764.4M418.5 687.1V763.7M419.5 706.3V798.1M420.5 720.9V768.4M421.5 715.3V762.7M422.5 684.6V787.8M423.5 720.1V775.5M424.5 699.1V762.5M425.5 721.9V766.9M426.5 707.1V802.3M427.5 681.5V775.2M428.5 699.8V782.1M429.5 710.7V760.7M430.5 717.1V767.7M431.5 715.8V760.2M432.5 709.5V772.2M433.5 710.5V765.3M434.5 710.5V763.9M435.5 680.3V761.1M436.5 710.5V761.9M437.5 716.6V762.2M438.5 696.6V805.3M439.5 719.2V761.2M440.5 717.2V761.5M441.5 674.0V761.6M442.5 721.1V793.8M443.5 678.4V783.9M444.5 721.5V765.2M445.5 714.9V764.5M446.5 720.8V771.3M447.5 703.8V787.3M448.5 721.7V759.7M449.5 720.3V804.7M450.5 707.6V794.1M451.5 698.3V796.7M452.5 721.2V758.6M453.5 691.4V764.4M454.5 710.4V792.5M455.5 718.6V772.1M456.5 721.8V763.3M457.5 689.2V794.4M458.5 703.5V815.6M459.5 717.8V782.2M460.5 687.3V817.3M461.5 715.8V765.6M462.5 689.9V807.7M463.5 722.7V765.3M464.5 725.1V762.3M465.5 725.5V760.8M466.5 695.0V773.1M467.5 726.2V756.2M468.5 726.6V784.2M469.5 717.2V773.8M470.5 727.5V753.1M471.5 728.0V751.4M472.5 725.5V761.1M473.5 726.2V754.3M474.5 693.1V771.4M475.5 693.1V756.6M476.5 691.2V756.8M477.5 691.6V761.4M478.5 715.4V755.2M479.5 723.0V755.9M480.5 703.6V784.2M481.5 721.2V758.6M482.5 720.7V769.5M483.5 720.3V757.8M484.5 719.4V758.0M485.5 719.1V798.7M486.5 670.5V774.9M487.5 715.2V759.0M488.5 709.5V768.7M489.5 709.9V767.4M490.5 716.9V759.6M491.5 716.5V781.3M492.5 705.2V758.6M493.5 706.5V772.5M494.5 720.9V756.1M495.5 715.4V761.2M496.5 695.5V755.9M497.5 713.0V752.8M498.5 728.6V759.6M499.5 730.5V765.1M500.5 722.2V757.0M501.5 729.2V751.0M502.5 708.3V775.2M503.5 726.3V759.5M504.5 730.5V758.9M505.5 725.7V752.8M506.5 717.5V774.3M507.5 726.7V770.2M508.5 725.1V771.0M509.5 706.7V752.5M510.5 692.2V753.8M511.5 712.6V782.2M512.5 721.3V788.0M513.5 721.3V755.0M514.5 721.0V757.5M515.5 675.0V759.2M516.5 719.6V764.4M517.5 689.5V762.6M518.5 705.5V799.0M519.5 718.2V767.4M520.5 705.3V759.8M521.5 717.8V792.6M522.5 702.8V769.0M523.5 675.8V765.5M524.5 719.4V774.6M525.5 692.5V786.8M526.5 716.8V771.7M527.5 712.5V775.7M528.5 720.0V761.0M529.5 707.5V757.4M530.5 722.3V757.3M531.5 721.5V759.2M532.5 719.7V757.7M533.5 689.5V764.3M534.5 712.0V779.7M535.5 697.6V782.0M536.5 717.3V771.7M537.5 716.2V768.3M538.5 669.6V763.4M539.5 664.2V759.9M540.5 711.9V766.1M541.5 714.7V780.4M542.5 712.9V766.2M543.5 712.1V761.5M544.5 716.5V761.5M545.5 717.7V771.6M546.5 716.6V760.0M547.5 720.3V756.6M548.5 705.7V756.0M549.5 717.8V757.9M550.5 697.8V755.0M551.5 691.0V771.4M552.5 709.0V758.5M553.5 695.4V756.0M554.5 692.4V756.1M555.5 689.6V761.5M556.5 717.6V756.6M557.5 696.7V779.7M558.5 698.0V778.4M559.5 713.3V757.8M560.5 689.4V757.9M561.5 672.1V773.5M562.5 697.9V810.1M563.5 700.0V768.0M564.5 713.5V802.9M565.5 706.5V763.4M566.5 698.7V776.5M567.5 672.8V777.4M568.5 700.7V770.5M569.5 711.3V820.0M570.5 712.6V769.6M571.5 701.8V767.2M572.5 711.4V767.1M573.5 686.8V769.9M574.5 705.4V803.6M575.5 669.3V786.6M576.5 663.4V770.2M577.5 697.6V766.3M578.5 715.0V778.7M579.5 716.1V774.6M580.5 716.8V791.7M581.5 716.6V819.2M582.5 683.1V806.0M583.5 712.3V760.7M584.5 714.6V760.3M585.5 710.7V775.5M586.5 722.6V764.0M587.5 723.6V804.2M588.5 718.6V780.2M589.5 725.0V757.8M590.5 723.7V757.9M591.5 720.1V764.9M592.5 717.5V786.9M593.5 686.0V779.7M594.5 711.5V764.6M595.5 700.4V790.2M596.5 683.3V782.2M597.5 704.2V790.4M598.5 684.5V771.3M599.5 704.6V781.5M600.5 706.9V824.3M601.5 674.9V768.4M602.5 669.2V767.5M603.5 702.3V782.8M604.5 713.8V763.6M605.5 715.5V762.2M606.5 713.2V773.4M607.5 692.9V769.5M608.5 698.3V799.7M609.5 706.0V762.1M610.5 710.9V757.7M611.5 715.8V777.9M612.5 715.1V759.4M613.5 671.3V758.4M614.5 674.1V773.9M615.5 686.7V760.0M616.5 708.4V780.5M617.5 684.2V776.7M618.5 669.0V794.2M619.5 684.1V766.5M620.5 713.7V783.8M621.5 707.6V758.4M622.5 701.8V757.5M623.5 679.2V756.9M624.5 722.0V764.5M625.5 704.8V771.4M626.5 724.0V755.4M627.5 722.7V761.1M628.5 704.5V753.4M629.5 724.6V753.1M630.5 708.4V755.6M631.5 726.9V760.3M632.5 722.8V753.4M633.5 714.7V753.4M634.5 714.5V753.5M635.5 724.0V785.2M636.5 721.7V753.6M637.5 701.4V753.7M638.5 710.7V754.2M639.5 724.0V755.2M640.5 723.6V754.9M641.5 704.2V767.6M642.5 721.3V756.9M643.5 713.3V767.0M644.5 675.1V757.4M645.5 695.7V795.7M646.5 714.6V758.7M647.5 739.6V739.6M648.5 739.6V739.6" stroke="#1c1c1c" stroke-width="1" fill="none"/><polyline fill="none" stroke="#1c1c1c" stroke-width="1.0" stroke-linejoin="round" points="94,739.9 96,739 98,739.5 100,739.3 102,739.5 104,739.1 106,739.6 108,739.6 110,739.5" /><polyline fill="none" stroke="#1c1c1c" stroke-width="1.0" stroke-linejoin="round" points="660,736.3 661,737.7 662,736.2 663,735.6 664,739.1 665,736.2 666,741.2 667,740.2 668,734.2 669,739.2 670,736.2 671,738.7 672,738.7 673,734.2 674,738.1" /><g stroke="#333" stroke-width="1.7" fill="none"><path d="M830.4,306.8 H836.9 V734.2 H1431.2 V740.3"/><path d="M830.4,393.8 H836.9"/><path d="M830.4,480.9 H836.9"/><path d="M830.4,568.1 H836.9"/><path d="M830.4,655.2 H836.9"/><path d="M836.9,734.2 V740.3"/><path d="M896.3,734.2 V740.3"/><path d="M955.8,734.2 V740.3"/><path d="M1015.2,734.2 V740.3"/><path d="M1074.6,734.2 V740.3"/><path d="M1134.0,734.2 V740.3"/><path d="M1193.5,734.2 V740.3"/><path d="M1252.9,734.2 V740.3"/><path d="M1312.3,734.2 V740.3"/><path d="M1371.8,734.2 V740.3"/></g><g font-size="17.2" fill="#222" text-anchor="end"><text x="822.3" y="311.3">0.004</text><text x="822.3" y="398.7">0.003</text><text x="822.3" y="486.1">0.002</text><text x="822.3" y="573.6">0.001</text><text x="822.3" y="661.0">0.000</text></g><g font-size="20" fill="#222" text-anchor="middle"><text x="836.9" y="767.8">0</text><text x="896.3" y="767.8">50</text><text x="955.8" y="767.8">100</text><text x="1015.2" y="767.8">150</text><text x="1074.6" y="767.8">200</text><text x="1134.0" y="767.8">250</text><text x="1193.5" y="767.8">300</text><text x="1252.9" y="767.8">350</text><text x="1312.3" y="767.8">400</text><text x="1371.8" y="767.8">450</text><text x="1431.2" y="767.8">500</text></g><text x="1054.3" y="808.2" font-size="22.5" fill="#222" textLength="160" lengthAdjust="spacingAndGlyphs">Frequency (Hz)</text><text transform="translate(762,680.9) rotate(-90)" font-size="20.1" fill="#222">Power Spectrum Density (volts<tspan font-size="13" dy="-9.5">2</tspan><tspan dy="9.5">/Hz)</tspan></text><path d="M1186.4,355.5 H1224.3" stroke="#444" stroke-width="1"/><path d="M1186.4,375.5 H1224.3" stroke="#d64a30" stroke-width="1"/><text x="1232.5" y="360.9" font-size="16.6" fill="#222" textLength="111.5" lengthAdjust="spacingAndGlyphs">No Motor Point</text><text x="1232.5" y="381.3" font-size="16.6" fill="#222" textLength="112.5" lengthAdjust="spacingAndGlyphs">On Motor Point</text><polyline fill="none" stroke="#d44a2e" stroke-width="1.0" stroke-linejoin="round" points="836,654.7 838.7,655 841.3,655.3 844,655.4 847.2,654.6 850.3,652.7 853.5,650.7 854.6,650.2 855.7,649.6 856.8,648.7 857.7,643.2 858.6,634 859.5,629.2 860.6,633.4 861.8,641.1 862.9,645.3 864.2,640.6 865.4,631.9 866.7,627.2 867.5,627.9 868.2,629.2 869,629.9 869.6,629.4 870.1,628.4 870.7,627.9 871,628.8 871.3,630.3 871.6,631.2 874.3,620.1 877,599.3 879.7,588.2 880.8,592.7 882,602.2 883.1,611 884.7,620.9 886.2,629.9 887.8,633.9 888.7,625.7 889.6,610.5 890.5,602.3 891.4,606 892.2,612.7 893.1,616.4 894.7,601.9 896.3,575.1 897.9,560.6 899.2,576.1 900.6,605 901.9,620.5 902.9,614.7 903.8,604.1 904.8,598.3 906.5,607.2 908.3,623.7 910,632.6 911,626.1 912,614.2 913,607.7 913.8,611 914.5,617.2 915.3,620.5 916.1,617.2 916.9,611 917.7,607.7 919.6,615.2 921.5,629.1 923.4,636.6 924.7,636.4 926.1,636.2 927.4,636 928.8,638.1 930.1,641.9 931.5,644 932.9,639.6 934.4,631.6 935.8,627.2 936.6,630.7 937.4,637.1 938.2,640.6 939.4,631.6 940.6,614.7 941.8,605.7 942.8,615.4 943.9,633.6 944.9,643.3 946.6,636.5 948.3,623.9 950,617.1 951,621.1 952,628.6 953,632.6 954.6,623.7 956.1,607.2 957.7,598.3 959.3,608.8 960.8,629 962.4,642 964.4,646.2 966.4,649 968.4,650 969.6,640.3 970.8,622.1 972,612.4 973.5,619.4 975,632.3 976.5,639.3 977.2,638.3 977.8,636.3 978.5,635.3 979.9,638.4 981.2,644.3 982.6,647.4 984.3,643 986,634.9 987.7,630.5 989,634.7 990.4,642.5 991.7,646.7 993.1,642.2 994.6,633.7 996,629.2 996.5,631.9 996.9,636.9 997.4,639.6 998.2,637.9 999.1,634.7 999.9,633 1001.5,636.4 1003.2,642.7 1004.8,646.1 1005.9,643.1 1007,637.6 1008.1,634.6 1008.9,637.2 1009.7,641.9 1010.5,644.5 1011.6,642.5 1012.7,638.3 1013.8,634.6 1015.2,631 1016.5,627.8 1017.9,626.4 1018.7,631.5 1019.6,641 1020.4,646.1 1021.8,646 1023.1,645.7 1024.5,645.3 1026.1,643.1 1027.8,639.7 1029.4,637.9 1030.8,639.6 1032.1,642.8 1033.5,644.5 1034.9,643 1036.2,640.2 1037.6,638.7 1039.3,640.6 1040.9,644.2 1042.6,646.1 1044.2,644 1045.9,640 1047.5,637.9 1048.6,639.8 1049.7,643.4 1050.8,645.3 1053,644.9 1055.2,644.1 1057.4,643.7 1059,644.3 1060.7,645.5 1062.3,646.1 1064.5,644.6 1066.7,641.9 1068.9,640.4 1070,642.3 1071,645.9 1072.1,647.8 1073.2,644.6 1074.3,638.7 1075.4,635.5 1076.8,637.8 1078.1,642.2 1079.5,645.3 1081.2,646.6 1082.8,647.5 1084.5,647.8 1085.3,646.7 1086.1,644.8 1086.9,643.7 1087.7,645 1088.6,647.3 1089.4,648.6 1090.2,646.5 1091,642.5 1091.8,640.4 1093.5,642 1095.1,645.1 1096.8,647 1098.4,647.3 1100.1,647.5 1101.7,647.8 1102.8,648.6 1103.9,649.6 1105,650.2 1106.9,648.9 1108.8,646.6 1110.7,645.3 1112.6,646.6 1114.6,648.9 1116.5,650.2 1118.1,649.6 1119.8,648.2 1121.4,647 1123,645.9 1124.7,644.9 1126.3,644.5 1128,645.8 1129.6,648.1 1131.3,649.4 1132.4,648.8 1133.5,647.6 1134.6,647 1136.2,647.1 1137.9,647.4 1139.5,647.8 1140.9,648.6 1142.2,649.7 1143.6,650.2 1146.3,650 1148.9,649.6 1151.6,649.4 1153.8,650.3 1156,651.8 1158.2,652.7 1159.5,651.7 1160.8,649.8 1162.1,648.8 1164.1,649.7 1166.2,651.3 1168.2,652.2 1169.3,650.6 1170.4,647.7 1171.5,646.1 1172.8,647.7 1174.1,650.6 1175.4,652.2 1176.7,651.8 1177.9,650.9 1179.2,650.5 1180.5,650.6 1181.8,650.9 1183.1,651 1184.4,650.1 1185.6,648.6 1186.9,647.7 1187.8,648.9 1188.8,651 1189.7,652.2 1190.6,651.5 1191.6,650.2 1192.5,649.4 1194,649.1 1195.4,648.9 1196.9,648.8 1198.9,650.2 1201,652.9 1203,654.3 1204.6,653.9 1206.3,653.1 1207.9,652.7 1209,652.9 1210.1,653.1 1211.2,653.3 1212.7,653 1214.1,652.5 1215.6,652.2 1216.7,652.7 1217.9,653.8 1219,654.3 1220.5,653.4 1221.9,651.9 1223.4,651 1225.2,651.1 1227.1,651.3 1228.9,651.6 1230.4,652.4 1231.8,653.7 1233.3,654.3 1235.5,654.3 1237.7,654.3 1239.9,654.3 1241.7,653 1243.6,650.7 1245.4,649.4 1246.9,650.6 1248.4,652.8 1249.9,654.3 1250.9,654.5 1251.9,654.7 1252.9,654.8 1253.9,654.9 1254.9,655 1255.9,655 1256.9,654.9 1257.9,654.8 1258.9,654.7 1259.9,654.8 1260.9,654.9 1261.9,655 1262.9,654.8 1263.9,654.4 1264.9,654.2 1265.9,654.3 1266.9,654.6 1267.9,654.7 1268.9,654.6 1269.9,654.4 1270.9,654.2 1271.9,654.1 1272.9,654 1273.9,653.9 1274.9,654.2 1275.9,654.6 1276.9,654.9 1277.9,654.9 1278.9,654.8 1279.9,654.8 1280.9,654.8 1281.9,654.8 1282.9,654.8 1283.9,654.8 1284.9,654.8 1285.9,654.7 1286.9,654.7 1287.9,654.7 1288.9,654.7 1289.9,654.7 1290.9,654.6 1291.9,654.6 1292.9,654.6 1293.9,654.6 1294.9,654.7 1295.9,654.8 1296.9,654.9 1297.9,654.9 1298.9,654.9 1299.9,654.8 1300.9,654.8 1301.9,654.8 1302.9,654.9 1303.9,654.9 1304.9,654.7 1305.9,654.1 1306.9,653.9 1307.9,654.1 1308.9,654.5 1309.9,654.7 1310.9,654.6 1311.9,654.2 1312.9,654.1 1313.9,654 1314.9,654 1315.9,654 1316.9,654.2 1317.9,654.6 1318.9,654.8 1319.9,654.7 1320.9,654.5 1321.9,654.4 1322.9,654.4 1323.9,654.4 1324.9,654.5 1325.9,654.6 1326.9,654.9 1327.9,655 1328.9,654.9 1329.9,654.7 1330.9,654.6 1331.9,654.6 1332.9,654.6 1333.9,654.6 1334.9,654.6 1335.9,654.5 1336.9,654.4 1337.9,654.6 1338.9,654.8 1339.9,655 1340.9,654.8 1341.9,654.5 1342.9,654.4 1343.9,654.5 1344.9,654.7 1345.9,654.8 1346.9,654.8 1347.9,654.8 1348.9,654.7 1349.9,654.5 1350.9,654.1 1351.9,653.9 1352.9,653.9 1353.9,654.1 1354.9,654.3 1355.9,654.5 1356.9,654.7 1357.9,654.8 1358.9,654.8 1359.9,654.8 1360.9,654.8 1361.9,654.7 1362.9,654.5 1363.9,654.4 1364.9,654.4 1365.9,654.4 1366.9,654.4 1367.9,654.5 1368.9,654.8 1369.9,655 1370.9,654.9 1371.9,654.8 1372.9,654.7 1373.9,654.7 1374.9,654.7 1375.9,654.7 1376.9,654.8 1377.9,654.9 1378.9,655 1379.9,654.9 1380.9,654.7 1381.9,654.6 1382.9,654.6 1383.9,654.8 1384.9,654.8 1385.9,654.7 1386.9,654.6 1387.9,654.5 1388.9,654.5 1389.9,654.7 1390.9,654.7 1391.9,654.7 1392.9,654.7 1393.9,654.7 1394.9,654.5 1395.9,654.1 1396.9,653.9 1397.9,654.1 1398.9,654.4 1399.9,654.6 1400.9,654.8 1401.9,654.9 1402.9,654.9 1403.9,654.8 1404.9,654.7 1405.9,654.6 1406.9,654.5 1407.9,654.5 1408.9,654.4 1409.9,654.5 1410.9,654.7 1411.9,654.8 1412.9,654.7 1413.9,654.6 1414.9,654.5 1415.9,654.5 1416.9,654.6 1417.9,654.6 1418.9,654.5 1419.9,654.2 1420.9,654.1 1421.9,654.3 1422.9,654.8 1423.9,655 1424.9,654.8 1425.9,654.4 1426.9,654.1 1427.9,654 1428.9,653.9 1429.9,653.8 1430.3,654 1430.6,654.5 1431,655" /><polyline fill="none" stroke="#3a3a3a" stroke-width="1.0" stroke-linejoin="round" points="836,654.7 838.7,654.8 841.3,654.9 844,655 846,654.9 848,654.5 850,654 852.1,653.3 854.1,652.1 856.2,650 857.3,642.6 858.4,630.3 859.5,623.8 861.1,627 862.6,632.8 864.2,636 866.2,621.2 868.3,593.6 870.3,578.8 871.6,588.5 873,606.7 874.3,616.4 876.1,578.6 878,508.3 879.8,470.5 880.7,498.6 881.5,550.7 882.4,578.8 883.1,572.5 883.7,560.9 884.4,554.6 885.5,568.4 886.7,593.9 887.8,607.7 888.7,573.4 889.6,509.8 890.5,475.5 891.2,479.3 892,486.5 892.7,490.3 893.1,483.4 893.4,469.4 893.8,458.5 894.4,449.5 894.9,442.7 895.5,439.9 895.9,443.9 896.2,451.2 896.6,455.2 897.1,452.4 897.7,443.9 898.2,430 898.4,403.5 898.7,362 898.9,340.4 899.1,343.6 899.3,351.2 899.5,360 899.8,377.6 900.2,399.4 900.5,420 901.2,463.8 901.9,504.9 902.6,523.2 903.1,504.1 903.5,462 904,420 904.3,390 904.7,360.1 905,346.5 905.3,355 905.7,375.5 906,400 906.3,434.4 906.7,477.3 907,510 907.5,543 908.1,568.5 908.6,578.8 909.7,562.5 910.8,527.7 911.9,495.8 912.3,486.9 912.6,478.6 913,474.9 913.4,478 913.7,483.9 914.1,487 914.8,480.3 915.6,467.9 916.3,461.2 917,475 917.8,500.6 918.5,514.4 919.2,505.9 920,490 920.7,481.5 921.6,482.8 922.4,486.1 923.3,490.3 923.8,493.3 924.4,497.5 924.9,503.4 925.7,534 926.6,579.6 927.4,603 928.3,600.3 929.2,593.7 930.1,585.5 931.1,568.1 932.2,545.8 933.2,534.7 933.7,543.3 934.3,559.4 934.8,568 936.4,559.6 938.1,538.8 939.7,512.2 940.1,504.9 940.4,495.9 940.8,485.9 941.2,471.7 941.5,456 941.9,448.6 942.3,455.1 942.6,469.2 943,482.6 943.6,500.7 944.1,517.7 944.7,525.3 945.2,519.1 945.8,507.4 946.3,501.2 946.7,505.2 947,512.6 947.4,516.6 947.8,510.2 948.3,498.3 948.7,491.9 949.2,495.2 949.6,501.8 950.1,506.7 950.7,508.9 951.2,510.3 951.8,512.2 952.3,515.8 952.9,520 953.4,522.1 954,512.2 954.5,490.8 955.1,470.5 955.6,456.7 956.2,443.7 956.7,430 957.7,395.9 958.6,360 959.6,343.4 960.1,356.8 960.6,390.6 961.1,435.5 961.3,459.7 961.4,490.5 961.6,512.2 962.1,542.3 962.5,563 963,570.7 963.9,565.8 964.8,556.8 965.7,551.9 966.8,565.5 968,590.7 969.1,604.3 970.3,582.1 971.4,541 972.6,518.8 973.7,543.4 974.7,589.1 975.8,613.7 977.8,603.3 979.9,583.8 981.9,573.4 982.6,577.6 983.2,585.3 983.9,589.5 985.2,569.2 986.6,531.4 987.9,511.1 988.8,537 989.7,585.1 990.6,611 991.2,596.7 991.9,570.1 992.5,555.8 993.3,573.2 994.1,605.7 994.9,623.1 996,597.1 997.1,548.9 998.2,522.9 999,537 999.9,563 1000.7,577.1 1001.2,569 1001.8,554 1002.3,545.9 1003.1,567.6 1004,608 1004.8,629.7 1005.6,619.9 1006.4,601.7 1007.2,591.9 1008,602.1 1008.9,621.1 1009.7,631.3 1010.8,616.8 1011.9,590 1013,575.5 1013.8,578.7 1014.7,584.6 1015.5,587.8 1016.2,579.7 1016.9,564.7 1017.6,556.6 1018.5,573 1019.5,603.4 1020.4,619.8 1021.5,603 1022.6,571.8 1023.7,555 1024.5,561.6 1025.3,573.8 1026.1,580.4 1026.9,573.2 1027.8,559.7 1028.6,552.5 1029.7,568.3 1030.8,597.5 1031.9,613.3 1033,599.9 1034.1,574.9 1035.2,561.5 1036.3,562.8 1037.4,566.2 1038.5,570.6 1039.6,580.3 1040.6,593.5 1041.7,600.1 1042.8,589.9 1043.9,570.9 1045,560.7 1045.8,564.5 1046.7,571.7 1047.5,575.5 1048.3,567 1049.2,551.1 1050,542.6 1050.8,551.1 1051.6,567 1052.4,575.5 1052.9,575.1 1053.5,574.2 1054,573.8 1055.1,580.2 1056.3,592.1 1057.4,598.5 1057.9,594 1058.5,585.7 1059,581.2 1059.8,592.1 1060.7,612.2 1061.5,623.1 1062.6,611.2 1063.6,589 1064.7,577.1 1066.6,587.8 1068.6,607.5 1070.5,618.2 1072.1,610.1 1073.8,595.1 1075.4,587 1076.5,593 1077.6,604.9 1078.7,613.3 1080.1,617.4 1081.4,620.4 1082.8,621.5 1083.6,612.8 1084.5,596.5 1085.3,587.8 1086.4,599.7 1087.5,621.9 1088.6,633.8 1090,611.2 1091.3,569.3 1092.7,546.7 1094.9,566.5 1097,603.3 1099.2,623.1 1100,621.2 1100.9,617.6 1101.7,615.7 1102.8,618.9 1103.9,624.9 1105,628.1 1106.1,623.6 1107.2,615.3 1108.3,610.8 1109.7,612.7 1111,616.3 1112.4,618.2 1113.2,614.8 1114,608.5 1114.8,605.1 1116.2,614 1117.6,630.7 1119,639.6 1119.8,634.5 1120.6,624.9 1121.4,619.8 1122.8,622.8 1124.1,628.3 1125.5,631.3 1126.9,628.6 1128.2,623.4 1129.6,620.7 1130.4,623.2 1131.3,628 1132.1,630.5 1132.6,628.4 1133.2,624.4 1133.7,622.3 1134.8,624.9 1135.9,629.6 1137,632.2 1137.9,627.9 1138.9,620 1139.8,615.7 1140.8,620.6 1141.8,629.7 1142.8,634.6 1143.9,630.3 1145,622.5 1146.1,618.2 1147.4,625.3 1148.7,638.4 1150,645.5 1151.8,639.5 1153.7,628.4 1155.5,622.4 1156.3,626.7 1157.2,634.6 1158,638.9 1158.8,634.6 1159.7,626.7 1160.5,622.4 1162,628.1 1163.4,638.7 1164.9,644.4 1165.8,644.1 1166.7,643.1 1167.6,641.7 1168.3,637.5 1169.1,631.2 1169.8,627.9 1170.5,630.6 1171.3,635.7 1172,638.4 1172.6,636.2 1173.3,632.3 1173.9,630.1 1175.1,633.8 1176.4,640.7 1177.6,644.4 1178.7,643 1179.8,640.1 1180.9,637.3 1181.8,635.2 1182.7,633.2 1183.6,632.3 1185.6,635.7 1187.7,642.1 1189.7,645.5 1191.5,641.1 1193.4,632.8 1195.2,628.4 1196.1,633.7 1197.1,643.5 1198,648.8 1198.7,645.8 1199.5,640.3 1200.2,637.3 1201.3,639.7 1202.4,644.2 1203.5,646.6 1204.2,644.9 1205,641.7 1205.7,640 1207.2,641 1208.6,642.9 1210.1,643.9 1210.5,643.6 1210.8,643.1 1211.2,642.8 1212.7,644.2 1214.1,646.9 1215.6,648.3 1216.5,645.9 1217.5,641.3 1218.4,638.9 1219.3,641.6 1220.3,646.7 1221.2,649.4 1221.7,648.4 1222.3,646.5 1222.8,645.5 1223.7,646.9 1224.7,649.6 1225.6,651 1226.7,650.6 1227.8,649.8 1228.9,649.4 1230.4,649.7 1231.8,650.2 1233.3,650.5 1234.6,650.1 1235.9,649.2 1237.2,648.8 1238.1,650 1239,652.1 1239.9,653.3 1240.6,652.5 1241.4,650.8 1242.1,649.4 1243.9,647.5 1245.8,646.1 1247.6,645.5 1248.7,647.4 1249.9,650.8 1251,652.7 1252.5,652.1 1253.9,650.9 1255.4,649.9 1257.2,649.2 1259.1,648.5 1260.9,648.3 1261.8,649.6 1262.8,652 1263.7,653.3 1265.3,653.1 1267,652.7 1268.6,652.2 1270.3,651.1 1271.9,649.6 1273.6,648.8 1274.9,649.7 1276.1,651.3 1277.4,652.2 1279.3,651.9 1281.1,651.4 1283,651 1284.8,650.8 1286.7,650.6 1288.5,650.5 1289.2,651.1 1290,652.1 1290.7,652.7 1293.1,652.3 1295.5,651.4 1297.9,651 1299.2,651.9 1300.4,653.4 1301.7,654.3 1302.8,653.9 1303.9,653.1 1305,652.7 1305.8,653.1 1306.7,653.9 1307.5,654.3 1308.3,654.1 1309.2,653.7 1310,653.4 1310.8,653.3 1311.7,653.2 1312.5,653.2 1313.3,653.3 1314.2,653.6 1315,653.7 1315.8,653.6 1316.7,653.4 1317.5,653.3 1318.3,653.5 1319.2,654 1320,654.2 1320.8,654.1 1321.7,653.8 1322.5,653.6 1323.3,653.3 1324.2,653 1325,652.9 1325.8,653.1 1326.7,653.6 1327.5,653.9 1328.3,653.3 1329.2,652.3 1330,651.7 1330.8,652.2 1331.7,653.3 1332.5,653.8 1333.3,653.8 1334.2,653.6 1335,653.6 1335.8,653.6 1336.7,653.6 1337.5,653.6 1338.3,653.6 1339.2,653.7 1340,653.9 1340.8,654.1 1341.7,654.4 1342.5,654.5 1343.3,654.1 1344.2,653.4 1345,653 1345.8,653.2 1346.7,653.8 1347.5,654.1 1348.3,654.2 1349.2,654.3 1350,654.4 1350.8,654.5 1351.7,654.5 1352.5,654.6 1353.3,654.4 1354.2,654.1 1355,653.9 1355.8,653.9 1356.7,654 1357.5,654.2 1358.3,654.3 1359.2,654.4 1360,654.4 1360.8,654.4 1361.7,654.3 1362.5,654.3 1363.3,654.4 1364.2,654.4 1365,654.5 1365.8,654.2 1366.7,653.8 1367.5,653.6 1368.3,653.5 1369.2,653.5 1370,653.5 1370.8,653.4 1371.7,653.2 1372.5,653 1373.3,653.1 1374.2,653.1 1375,653.2 1375.8,653.1 1376.7,653.1 1377.5,653.1 1378.3,653.1 1379.2,653.3 1380,653.4 1380.8,653.7 1381.7,654 1382.5,654.2 1383.3,654 1384.2,653.7 1385,653.4 1385.8,653.3 1386.7,653.3 1387.5,653.2 1388.3,653.5 1389.2,653.9 1390,654.1 1390.8,653.9 1391.7,653.6 1392.5,653.3 1393.3,653.2 1394.2,653.1 1395,653.1 1395.8,653.3 1396.7,653.7 1397.5,653.9 1398.3,653.7 1399.2,653.4 1400,653.2" /></svg></body></html>
